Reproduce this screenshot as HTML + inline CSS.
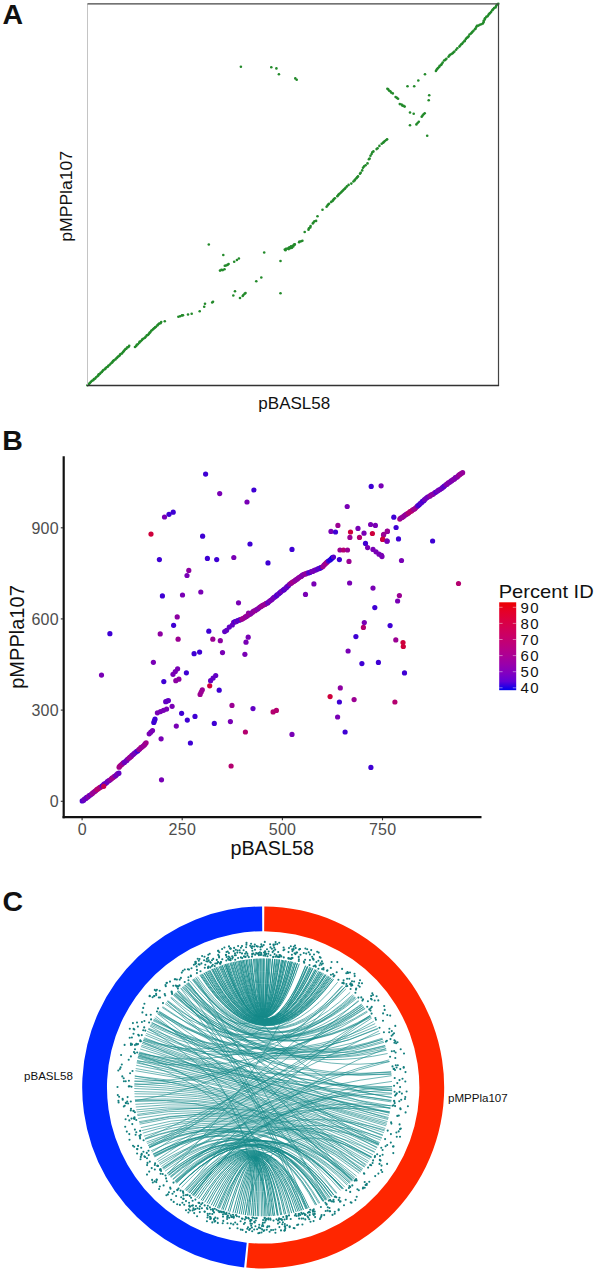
<!DOCTYPE html>
<html><head><meta charset="utf-8"><style>
html,body{margin:0;padding:0;background:#fff;width:600px;height:1275px;overflow:hidden}
body{position:relative;font-family:"Liberation Sans",sans-serif}
</style></head><body>
<svg width="600" height="1275" viewBox="0 0 600 1275" style="position:absolute;left:0;top:0">
<rect width="600" height="1275" fill="#fff"/>
<g fill="#238a2b">
<circle cx="87.4" cy="385.3" r="1.3"/>
<circle cx="88.6" cy="384.3" r="1.3"/>
<circle cx="89.4" cy="383.6" r="1.3"/>
<circle cx="90.1" cy="382.8" r="1.3"/>
<circle cx="91" cy="381.8" r="1.3"/>
<circle cx="92" cy="380.7" r="1.3"/>
<circle cx="93.2" cy="380.3" r="1.3"/>
<circle cx="93.9" cy="379" r="1.3"/>
<circle cx="95.2" cy="378.6" r="1.3"/>
<circle cx="96.1" cy="377.3" r="1.3"/>
<circle cx="97.4" cy="376.2" r="1.3"/>
<circle cx="98.3" cy="375.4" r="1.3"/>
<circle cx="98.7" cy="374.4" r="1.3"/>
<circle cx="99.8" cy="374" r="1.3"/>
<circle cx="100.6" cy="372.9" r="1.3"/>
<circle cx="101.9" cy="371.9" r="1.3"/>
<circle cx="102.8" cy="370.8" r="1.3"/>
<circle cx="103.4" cy="370" r="1.3"/>
<circle cx="104.8" cy="369.2" r="1.3"/>
<circle cx="105.5" cy="368.4" r="1.3"/>
<circle cx="106.6" cy="367.3" r="1.3"/>
<circle cx="107.8" cy="366.7" r="1.3"/>
<circle cx="108.3" cy="365.7" r="1.3"/>
<circle cx="109.5" cy="365" r="1.3"/>
<circle cx="110.6" cy="363.7" r="1.3"/>
<circle cx="111.7" cy="362.7" r="1.3"/>
<circle cx="112.3" cy="362.2" r="1.3"/>
<circle cx="113" cy="361.1" r="1.3"/>
<circle cx="113.9" cy="360.4" r="1.3"/>
<circle cx="115.4" cy="359.4" r="1.3"/>
<circle cx="116.4" cy="358.3" r="1.3"/>
<circle cx="117.2" cy="357.6" r="1.3"/>
<circle cx="118.1" cy="356.6" r="1.3"/>
<circle cx="119.2" cy="356" r="1.3"/>
<circle cx="119.9" cy="354.9" r="1.3"/>
<circle cx="120.6" cy="354.1" r="1.3"/>
<circle cx="122" cy="353.4" r="1.3"/>
<circle cx="123" cy="352" r="1.3"/>
<circle cx="123.7" cy="351.3" r="1.3"/>
<circle cx="124.4" cy="350.3" r="1.3"/>
<circle cx="125.4" cy="349.1" r="1.3"/>
<circle cx="126.3" cy="348.7" r="1.3"/>
<circle cx="127.3" cy="347.4" r="1.3"/>
<circle cx="128.5" cy="347" r="1.3"/>
<circle cx="129.2" cy="345.8" r="1.3"/>
<circle cx="135" cy="347" r="1.3"/>
<circle cx="136.2" cy="346" r="1.3"/>
<circle cx="136.8" cy="344.8" r="1.3"/>
<circle cx="137.8" cy="344.2" r="1.3"/>
<circle cx="139.2" cy="342.8" r="1.3"/>
<circle cx="139.6" cy="341.9" r="1.3"/>
<circle cx="140.6" cy="341.2" r="1.3"/>
<circle cx="141.9" cy="340.1" r="1.3"/>
<circle cx="142.4" cy="339.3" r="1.3"/>
<circle cx="143.6" cy="338.5" r="1.3"/>
<circle cx="145" cy="337.7" r="1.3"/>
<circle cx="145.7" cy="336.7" r="1.3"/>
<circle cx="146.8" cy="335.4" r="1.3"/>
<circle cx="147.9" cy="335" r="1.3"/>
<circle cx="148.8" cy="334.1" r="1.3"/>
<circle cx="149.5" cy="332.9" r="1.3"/>
<circle cx="150.2" cy="332.2" r="1.3"/>
<circle cx="151.2" cy="330.8" r="1.3"/>
<circle cx="152.3" cy="330" r="1.3"/>
<circle cx="153.3" cy="329" r="1.3"/>
<circle cx="154.1" cy="328.2" r="1.3"/>
<circle cx="155.1" cy="327.4" r="1.3"/>
<circle cx="156" cy="326.8" r="1.3"/>
<circle cx="157.4" cy="325.4" r="1.3"/>
<circle cx="158.1" cy="324.6" r="1.3"/>
<circle cx="159.2" cy="323.6" r="1.3"/>
<circle cx="160.5" cy="323.3" r="1.3"/>
<circle cx="161.2" cy="322" r="1.3"/>
<circle cx="178.4" cy="316.7" r="1.3"/>
<circle cx="180.1" cy="316.2" r="1.3"/>
<circle cx="182" cy="315.4" r="1.3"/>
<circle cx="183" cy="315.3" r="1.3"/>
<circle cx="220" cy="270.6" r="1.3"/>
<circle cx="221.4" cy="269.9" r="1.3"/>
<circle cx="222.8" cy="270.1" r="1.3"/>
<circle cx="224.5" cy="269.3" r="1.3"/>
<circle cx="224.8" cy="265.7" r="1.3"/>
<circle cx="226" cy="265.5" r="1.3"/>
<circle cx="227.5" cy="264.9" r="1.3"/>
<circle cx="228.6" cy="264" r="1.3"/>
<circle cx="236.9" cy="260" r="1.3"/>
<circle cx="238.9" cy="258.5" r="1.3"/>
<circle cx="242.7" cy="296" r="1.3"/>
<circle cx="243.4" cy="295" r="1.3"/>
<circle cx="244.6" cy="293.8" r="1.3"/>
<circle cx="245.5" cy="293.1" r="1.3"/>
<circle cx="288.8" cy="249.1" r="1.3"/>
<circle cx="290.7" cy="248.1" r="1.3"/>
<circle cx="292" cy="247.7" r="1.3"/>
<circle cx="293.3" cy="246.4" r="1.3"/>
<circle cx="284.8" cy="249.5" r="1.3"/>
<circle cx="286" cy="248.8" r="1.3"/>
<circle cx="287.6" cy="248.6" r="1.3"/>
<circle cx="289" cy="247.6" r="1.3"/>
<circle cx="290.1" cy="247.2" r="1.3"/>
<circle cx="291" cy="246.4" r="1.3"/>
<circle cx="292.8" cy="245.8" r="1.3"/>
<circle cx="293.9" cy="244.9" r="1.3"/>
<circle cx="294.8" cy="244.4" r="1.3"/>
<circle cx="299.1" cy="242.2" r="1.3"/>
<circle cx="301.2" cy="241.2" r="1.3"/>
<circle cx="302.4" cy="240.8" r="1.3"/>
<circle cx="308.5" cy="229.8" r="1.3"/>
<circle cx="308.9" cy="228.4" r="1.3"/>
<circle cx="310.3" cy="227.4" r="1.3"/>
<circle cx="310.6" cy="226" r="1.3"/>
<circle cx="312.8" cy="223.4" r="1.3"/>
<circle cx="313.5" cy="222.5" r="1.3"/>
<circle cx="314.4" cy="221.3" r="1.3"/>
<circle cx="316.1" cy="220.9" r="1.3"/>
<circle cx="326.6" cy="206.7" r="1.3"/>
<circle cx="327.5" cy="205.5" r="1.3"/>
<circle cx="328.2" cy="204.6" r="1.3"/>
<circle cx="329.1" cy="203.8" r="1.3"/>
<circle cx="331.2" cy="201.9" r="1.3"/>
<circle cx="332.6" cy="200.9" r="1.3"/>
<circle cx="333.3" cy="200" r="1.3"/>
<circle cx="333.9" cy="199" r="1.3"/>
<circle cx="334.9" cy="198.3" r="1.3"/>
<circle cx="337.3" cy="196.2" r="1.3"/>
<circle cx="338.1" cy="195.3" r="1.3"/>
<circle cx="338.8" cy="194.3" r="1.3"/>
<circle cx="339.8" cy="193.5" r="1.3"/>
<circle cx="341" cy="192.5" r="1.3"/>
<circle cx="341.9" cy="191.5" r="1.3"/>
<circle cx="342.9" cy="190.6" r="1.3"/>
<circle cx="343.9" cy="189.5" r="1.3"/>
<circle cx="344.9" cy="188.8" r="1.3"/>
<circle cx="345.6" cy="187.7" r="1.3"/>
<circle cx="346.9" cy="186.4" r="1.3"/>
<circle cx="348.6" cy="184.9" r="1.3"/>
<circle cx="351.3" cy="183.6" r="1.3"/>
<circle cx="353.4" cy="181.5" r="1.3"/>
<circle cx="354.6" cy="180.4" r="1.3"/>
<circle cx="355.1" cy="179.5" r="1.3"/>
<circle cx="356.4" cy="178.2" r="1.3"/>
<circle cx="357.1" cy="177.2" r="1.3"/>
<circle cx="358" cy="176.4" r="1.3"/>
<circle cx="360" cy="173.7" r="1.3"/>
<circle cx="360.7" cy="172.7" r="1.3"/>
<circle cx="362.2" cy="170.4" r="1.3"/>
<circle cx="363" cy="167.7" r="1.3"/>
<circle cx="364.1" cy="166.4" r="1.3"/>
<circle cx="365.6" cy="165.2" r="1.3"/>
<circle cx="367.5" cy="163.4" r="1.3"/>
<circle cx="368.9" cy="159.2" r="1.3"/>
<circle cx="369.6" cy="158.5" r="1.3"/>
<circle cx="370.5" cy="155.8" r="1.3"/>
<circle cx="371.6" cy="154" r="1.3"/>
<circle cx="372.3" cy="152.2" r="1.3"/>
<circle cx="373.4" cy="151.4" r="1.3"/>
<circle cx="376.6" cy="149.1" r="1.3"/>
<circle cx="377.6" cy="148.2" r="1.3"/>
<circle cx="379.4" cy="145.9" r="1.3"/>
<circle cx="381.7" cy="143.8" r="1.3"/>
<circle cx="383.1" cy="142.8" r="1.3"/>
<circle cx="383.8" cy="142.1" r="1.3"/>
<circle cx="384.8" cy="141.1" r="1.3"/>
<circle cx="386.3" cy="140" r="1.3"/>
<circle cx="387.1" cy="139.3" r="1.3"/>
<circle cx="387.4" cy="88.7" r="1.3"/>
<circle cx="388.2" cy="89.4" r="1.3"/>
<circle cx="389.2" cy="90.8" r="1.3"/>
<circle cx="390.3" cy="91.3" r="1.3"/>
<circle cx="391.2" cy="92.6" r="1.3"/>
<circle cx="392.8" cy="93.4" r="1.3"/>
<circle cx="395.6" cy="97" r="1.3"/>
<circle cx="396.9" cy="97.9" r="1.3"/>
<circle cx="398.1" cy="98.7" r="1.3"/>
<circle cx="399.8" cy="104.1" r="1.3"/>
<circle cx="401.6" cy="104.6" r="1.3"/>
<circle cx="402.3" cy="105.6" r="1.3"/>
<circle cx="403.6" cy="105.9" r="1.3"/>
<circle cx="404.7" cy="106.6" r="1.3"/>
<circle cx="421.7" cy="116.7" r="1.3"/>
<circle cx="422.6" cy="115.6" r="1.3"/>
<circle cx="423.6" cy="114.3" r="1.3"/>
<circle cx="424.7" cy="113.2" r="1.3"/>
<circle cx="416.4" cy="124.4" r="1.3"/>
<circle cx="417.6" cy="123" r="1.3"/>
<circle cx="418.8" cy="121.7" r="1.3"/>
<circle cx="435.9" cy="71" r="1.3"/>
<circle cx="436.6" cy="69.7" r="1.3"/>
<circle cx="437.2" cy="69" r="1.3"/>
<circle cx="438" cy="68" r="1.3"/>
<circle cx="439.2" cy="67" r="1.3"/>
<circle cx="439.7" cy="65.8" r="1.3"/>
<circle cx="441.1" cy="65" r="1.3"/>
<circle cx="441.7" cy="64.1" r="1.3"/>
<circle cx="442.7" cy="62.6" r="1.3"/>
<circle cx="444.1" cy="60.5" r="1.3"/>
<circle cx="445.3" cy="59.9" r="1.3"/>
<circle cx="446.4" cy="58.7" r="1.3"/>
<circle cx="448.5" cy="56.7" r="1.3"/>
<circle cx="449.4" cy="55.6" r="1.3"/>
<circle cx="450.1" cy="54.7" r="1.3"/>
<circle cx="451.5" cy="54" r="1.3"/>
<circle cx="452.6" cy="53.3" r="1.3"/>
<circle cx="453.3" cy="52.6" r="1.3"/>
<circle cx="454.4" cy="51.6" r="1.3"/>
<circle cx="456.1" cy="49.7" r="1.3"/>
<circle cx="457.3" cy="48.2" r="1.3"/>
<circle cx="459.4" cy="46.6" r="1.3"/>
<circle cx="460.2" cy="45.5" r="1.3"/>
<circle cx="461.3" cy="44.2" r="1.3"/>
<circle cx="462.1" cy="43.8" r="1.3"/>
<circle cx="463" cy="42.5" r="1.3"/>
<circle cx="464.5" cy="41.3" r="1.3"/>
<circle cx="464.8" cy="40.6" r="1.3"/>
<circle cx="465.9" cy="38.9" r="1.3"/>
<circle cx="467" cy="37.7" r="1.3"/>
<circle cx="467.8" cy="37.2" r="1.3"/>
<circle cx="468.6" cy="36.2" r="1.3"/>
<circle cx="469.5" cy="34.5" r="1.3"/>
<circle cx="470.9" cy="33.6" r="1.3"/>
<circle cx="471.9" cy="32.6" r="1.3"/>
<circle cx="472.5" cy="31.8" r="1.3"/>
<circle cx="473.5" cy="30.8" r="1.3"/>
<circle cx="474.9" cy="29.2" r="1.3"/>
<circle cx="475.5" cy="28.6" r="1.3"/>
<circle cx="476.3" cy="27.1" r="1.3"/>
<circle cx="477" cy="25.7" r="1.3"/>
<circle cx="478.5" cy="25.6" r="1.3"/>
<circle cx="479.8" cy="24.7" r="1.3"/>
<circle cx="481.3" cy="24.3" r="1.3"/>
<circle cx="482.9" cy="23.4" r="1.3"/>
<circle cx="483.7" cy="22" r="1.3"/>
<circle cx="483.7" cy="20.8" r="1.3"/>
<circle cx="484.8" cy="19.4" r="1.3"/>
<circle cx="485" cy="18.3" r="1.3"/>
<circle cx="486.3" cy="16.9" r="1.3"/>
<circle cx="487.5" cy="16.3" r="1.3"/>
<circle cx="488.4" cy="14.9" r="1.3"/>
<circle cx="489.2" cy="13.8" r="1.3"/>
<circle cx="490.1" cy="13.1" r="1.3"/>
<circle cx="491.1" cy="11.9" r="1.3"/>
<circle cx="492.3" cy="10.2" r="1.3"/>
<circle cx="493" cy="9.2" r="1.3"/>
<circle cx="494.1" cy="8.1" r="1.3"/>
<circle cx="495.5" cy="7.4" r="1.3"/>
<circle cx="496.1" cy="6.1" r="1.3"/>
<circle cx="496.9" cy="4.8" r="1.3"/>
<circle cx="498.3" cy="3.7" r="1.3"/>
<circle cx="295.3" cy="78.4" r="1.3"/>
<circle cx="296.7" cy="79.8" r="1.3"/>
<circle cx="164.8" cy="321.2" r="1.3"/>
<circle cx="188" cy="314.5" r="1.3"/>
<circle cx="191.7" cy="313.7" r="1.3"/>
<circle cx="199.7" cy="311.2" r="1.3"/>
<circle cx="204.2" cy="306.7" r="1.3"/>
<circle cx="205" cy="303.8" r="1.3"/>
<circle cx="212.2" cy="302.5" r="1.3"/>
<circle cx="213" cy="301.7" r="1.3"/>
<circle cx="208.8" cy="244.5" r="1.3"/>
<circle cx="223.3" cy="255" r="1.3"/>
<circle cx="264.2" cy="252.5" r="1.3"/>
<circle cx="234.2" cy="261.7" r="1.3"/>
<circle cx="261.3" cy="277.5" r="1.3"/>
<circle cx="256.3" cy="281.3" r="1.3"/>
<circle cx="235" cy="291.3" r="1.3"/>
<circle cx="233.3" cy="295.5" r="1.3"/>
<circle cx="240" cy="298" r="1.3"/>
<circle cx="280.5" cy="261" r="1.3"/>
<circle cx="280.5" cy="293.3" r="1.3"/>
<circle cx="285.5" cy="250.3" r="1.3"/>
<circle cx="294.5" cy="244.5" r="1.3"/>
<circle cx="299.5" cy="241.5" r="1.3"/>
<circle cx="304.7" cy="232" r="1.3"/>
<circle cx="317.5" cy="216.3" r="1.3"/>
<circle cx="322.5" cy="209.7" r="1.3"/>
<circle cx="410" cy="112.5" r="1.3"/>
<circle cx="413.7" cy="113.7" r="1.3"/>
<circle cx="407.5" cy="86.3" r="1.3"/>
<circle cx="414.2" cy="86.3" r="1.3"/>
<circle cx="418.3" cy="80.5" r="1.3"/>
<circle cx="425" cy="74.2" r="1.3"/>
<circle cx="429.2" cy="95.3" r="1.3"/>
<circle cx="428.7" cy="100.3" r="1.3"/>
<circle cx="410" cy="125.3" r="1.3"/>
<circle cx="427.2" cy="135.8" r="1.3"/>
<circle cx="240.9" cy="66.7" r="1.3"/>
<circle cx="271.3" cy="67.3" r="1.3"/>
<circle cx="276.4" cy="68.4" r="1.3"/>
<circle cx="278.9" cy="74.3" r="1.3"/>
</g>
<line x1="87.5" y1="3.8" x2="87.5" y2="385.5" stroke="#c4c4c4" stroke-width="1"/>
<line x1="87.5" y1="3.8" x2="498.5" y2="3.8" stroke="#444" stroke-width="1.2"/>
<line x1="498.5" y1="3.8" x2="498.5" y2="385.5" stroke="#444" stroke-width="1.2"/>
<line x1="87.0" y1="385.5" x2="499.1" y2="385.5" stroke="#333" stroke-width="1.4"/>
<text x="2.5" y="23.9" font-family="Liberation Sans, sans-serif" font-weight="bold" font-size="28.5" fill="#111">A</text>
<text x="258.3" y="409.4" font-family="Liberation Sans, sans-serif" font-size="16.5" fill="#111" textLength="72" lengthAdjust="spacingAndGlyphs">pBASL58</text>
<text transform="translate(71.7,241.7) rotate(-90)" font-family="Liberation Sans, sans-serif" font-size="16.5" fill="#111" textLength="90.8" lengthAdjust="spacingAndGlyphs">pMPPla107</text>
<text x="2.3" y="450.3" font-family="Liberation Sans, sans-serif" font-weight="bold" font-size="28.5" fill="#111">B</text>
<circle cx="101.5" cy="675.1" r="2.6" fill="#7900b5"/>
<circle cx="161.5" cy="779.8" r="2.6" fill="#7900b5"/>
<circle cx="176.3" cy="726.1" r="2.6" fill="#7900b5"/>
<circle cx="181.6" cy="713.3" r="2.6" fill="#3f00d4"/>
<circle cx="187.3" cy="720.1" r="2.6" fill="#3f00d4"/>
<circle cx="195" cy="716.4" r="2.6" fill="#3f00d4"/>
<circle cx="190.4" cy="743" r="2.6" fill="#3f00d4"/>
<circle cx="161.1" cy="738.8" r="2.6" fill="#7900b5"/>
<circle cx="153.4" cy="662.3" r="2.6" fill="#7900b5"/>
<circle cx="186.4" cy="672.8" r="2.6" fill="#3f00d4"/>
<circle cx="163.8" cy="681.6" r="2.6" fill="#3f00d4"/>
<circle cx="209.7" cy="685.8" r="2.6" fill="#ce003b"/>
<circle cx="219.2" cy="690.2" r="2.6" fill="#3f00d4"/>
<circle cx="232" cy="705.4" r="2.6" fill="#9b0093"/>
<circle cx="230.4" cy="721.6" r="2.6" fill="#7900b5"/>
<circle cx="214.3" cy="723.4" r="2.6" fill="#3f00d4"/>
<circle cx="245.4" cy="732" r="2.6" fill="#b4006f"/>
<circle cx="231.1" cy="766" r="2.6" fill="#b4006f"/>
<circle cx="194.1" cy="653.7" r="2.6" fill="#3f00d4"/>
<circle cx="199.6" cy="652.1" r="2.6" fill="#3f00d4"/>
<circle cx="222.5" cy="652.6" r="2.6" fill="#7900b5"/>
<circle cx="212.8" cy="639.2" r="2.6" fill="#9b0093"/>
<circle cx="220.3" cy="640.7" r="2.6" fill="#8d00a2"/>
<circle cx="208.8" cy="631.2" r="2.6" fill="#3f00d4"/>
<circle cx="178.1" cy="639.2" r="2.6" fill="#9b0093"/>
<circle cx="160.2" cy="633.9" r="2.6" fill="#8d00a2"/>
<circle cx="173.6" cy="625.3" r="2.6" fill="#3f00d4"/>
<circle cx="177.2" cy="616.9" r="2.6" fill="#8d00a2"/>
<circle cx="109.9" cy="633.7" r="2.6" fill="#3f00d4"/>
<circle cx="238.5" cy="602.8" r="2.6" fill="#7900b5"/>
<circle cx="248.5" cy="613.2" r="2.6" fill="#8d00a2"/>
<circle cx="248.2" cy="637.2" r="2.6" fill="#7900b5"/>
<circle cx="246" cy="642.2" r="2.6" fill="#7900b5"/>
<circle cx="244.9" cy="654.3" r="2.6" fill="#7900b5"/>
<circle cx="253" cy="708.6" r="2.6" fill="#6200c4"/>
<circle cx="273.1" cy="711.9" r="2.6" fill="#b4006f"/>
<circle cx="276.4" cy="710.4" r="2.6" fill="#b4006f"/>
<circle cx="292" cy="734.4" r="2.6" fill="#7900b5"/>
<circle cx="340.3" cy="687.9" r="2.6" fill="#8d00a2"/>
<circle cx="330.1" cy="696.6" r="2.6" fill="#ce003b"/>
<circle cx="339.4" cy="702" r="2.6" fill="#3f00d4"/>
<circle cx="354.1" cy="699.6" r="2.6" fill="#9b0093"/>
<circle cx="337.6" cy="717" r="2.6" fill="#7900b5"/>
<circle cx="345.1" cy="732" r="2.6" fill="#3f00d4"/>
<circle cx="394.9" cy="702" r="2.6" fill="#b4006f"/>
<circle cx="370.9" cy="767.4" r="2.6" fill="#3f00d4"/>
<circle cx="355.9" cy="636.6" r="2.6" fill="#3f00d4"/>
<circle cx="348.1" cy="651" r="2.6" fill="#7900b5"/>
<circle cx="361.9" cy="663.6" r="2.6" fill="#3f00d4"/>
<circle cx="378.4" cy="662.4" r="2.6" fill="#3f00d4"/>
<circle cx="395.8" cy="639.9" r="2.6" fill="#9b0093"/>
<circle cx="403" cy="642.6" r="2.6" fill="#ce003b"/>
<circle cx="403.3" cy="646.5" r="2.6" fill="#ce003b"/>
<circle cx="404.5" cy="672.9" r="2.6" fill="#3f00d4"/>
<circle cx="364.3" cy="622.6" r="2.6" fill="#7900b5"/>
<circle cx="363.4" cy="627.4" r="2.6" fill="#b4006f"/>
<circle cx="390.1" cy="625.6" r="2.6" fill="#3f00d4"/>
<circle cx="373" cy="588.1" r="2.6" fill="#7900b5"/>
<circle cx="374.8" cy="607.6" r="2.6" fill="#3f00d4"/>
<circle cx="399.4" cy="595.6" r="2.6" fill="#9b0093"/>
<circle cx="397.6" cy="601" r="2.6" fill="#7900b5"/>
<circle cx="349.6" cy="583" r="2.6" fill="#7900b5"/>
<circle cx="313.9" cy="583.9" r="2.6" fill="#7900b5"/>
<circle cx="305.5" cy="594.4" r="2.6" fill="#7900b5"/>
<circle cx="268" cy="562.9" r="2.6" fill="#3f00d4"/>
<circle cx="292" cy="549.4" r="2.6" fill="#3f00d4"/>
<circle cx="250" cy="544" r="2.6" fill="#3f00d4"/>
<circle cx="253.9" cy="490" r="2.6" fill="#3f00d4"/>
<circle cx="247" cy="502" r="2.6" fill="#7900b5"/>
<circle cx="205.6" cy="474.1" r="2.6" fill="#3f00d4"/>
<circle cx="219.7" cy="493.6" r="2.6" fill="#7900b5"/>
<circle cx="164.5" cy="517" r="2.6" fill="#7900b5"/>
<circle cx="169" cy="514.3" r="2.6" fill="#3f00d4"/>
<circle cx="173.2" cy="512.2" r="2.6" fill="#3f00d4"/>
<circle cx="151" cy="534.1" r="2.6" fill="#ce003b"/>
<circle cx="202.6" cy="536.2" r="2.6" fill="#3f00d4"/>
<circle cx="159.4" cy="559.6" r="2.6" fill="#3f00d4"/>
<circle cx="207.4" cy="558.4" r="2.6" fill="#3f00d4"/>
<circle cx="216.7" cy="559.6" r="2.6" fill="#3f00d4"/>
<circle cx="233.8" cy="557.5" r="2.6" fill="#7900b5"/>
<circle cx="188.8" cy="570.4" r="2.6" fill="#8d00a2"/>
<circle cx="187" cy="575.5" r="2.6" fill="#7900b5"/>
<circle cx="162.4" cy="595.9" r="2.6" fill="#3f00d4"/>
<circle cx="182.5" cy="595" r="2.6" fill="#7900b5"/>
<circle cx="200.8" cy="592" r="2.6" fill="#7900b5"/>
<circle cx="371.2" cy="486.4" r="2.6" fill="#3f00d4"/>
<circle cx="381.1" cy="485.8" r="2.6" fill="#7900b5"/>
<circle cx="347.2" cy="506.5" r="2.6" fill="#7900b5"/>
<circle cx="401.5" cy="560.5" r="2.6" fill="#7900b5"/>
<circle cx="398.5" cy="538.9" r="2.6" fill="#3f00d4"/>
<circle cx="396.1" cy="527.5" r="2.6" fill="#3f00d4"/>
<circle cx="393.8" cy="517.2" r="2.6" fill="#3f00d4"/>
<circle cx="432.6" cy="541" r="2.6" fill="#3f00d4"/>
<circle cx="458.5" cy="583.5" r="2.6" fill="#b4006f"/>
<circle cx="381.5" cy="555.3" r="2.6" fill="#7900b5"/>
<circle cx="331" cy="531.4" r="2.6" fill="#7900b5"/>
<circle cx="335.5" cy="532" r="2.6" fill="#3f00d4"/>
<circle cx="337.9" cy="525.4" r="2.6" fill="#9b0093"/>
<circle cx="339.4" cy="559.6" r="2.6" fill="#3f00d4"/>
<circle cx="340" cy="550" r="2.6" fill="#9b0093"/>
<circle cx="343.5" cy="550" r="2.6" fill="#b4006f"/>
<circle cx="347.5" cy="550" r="2.6" fill="#9b0093"/>
<circle cx="349" cy="561.4" r="2.6" fill="#9b0093"/>
<circle cx="350.5" cy="532" r="2.6" fill="#ce003b"/>
<circle cx="349.9" cy="537.4" r="2.6" fill="#9b0093"/>
<circle cx="358" cy="528.4" r="2.6" fill="#7900b5"/>
<circle cx="359.5" cy="537.4" r="2.6" fill="#b4006f"/>
<circle cx="364" cy="533.2" r="2.6" fill="#7900b5"/>
<circle cx="365.5" cy="543.4" r="2.6" fill="#3f00d4"/>
<circle cx="367.6" cy="547.6" r="2.6" fill="#7900b5"/>
<circle cx="370.6" cy="524.5" r="2.6" fill="#7900b5"/>
<circle cx="375.4" cy="525.4" r="2.6" fill="#7900b5"/>
<circle cx="372.4" cy="533.5" r="2.6" fill="#ce003b"/>
<circle cx="373" cy="549.4" r="2.6" fill="#7900b5"/>
<circle cx="376" cy="551.8" r="2.6" fill="#7900b5"/>
<circle cx="379" cy="554.2" r="2.6" fill="#7900b5"/>
<circle cx="382" cy="556.6" r="2.6" fill="#7900b5"/>
<circle cx="383.5" cy="535" r="2.6" fill="#9b0093"/>
<circle cx="387.4" cy="531.4" r="2.6" fill="#7900b5"/>
<circle cx="382.6" cy="539.5" r="2.6" fill="#b4006f"/>
<circle cx="387.1" cy="541" r="2.6" fill="#6200c4"/>
<circle cx="387.3" cy="531.1" r="2.6" fill="#9b0093"/>
<circle cx="383.7" cy="534.3" r="2.6" fill="#9b0093"/>
<circle cx="382.8" cy="539.2" r="2.6" fill="#ce003b"/>
<circle cx="387" cy="541.2" r="2.6" fill="#7900b5"/>
<circle cx="149.2" cy="733.8" r="2.6" fill="#7900b5"/>
<circle cx="150.8" cy="732.2" r="2.6" fill="#7900b5"/>
<circle cx="152.5" cy="730.5" r="2.6" fill="#7900b5"/>
<circle cx="153.8" cy="722.5" r="2.6" fill="#3f00d4"/>
<circle cx="154.4" cy="720.8" r="2.6" fill="#3f00d4"/>
<circle cx="155" cy="719.2" r="2.6" fill="#3f00d4"/>
<circle cx="157.4" cy="712.8" r="2.6" fill="#7900b5"/>
<circle cx="160.5" cy="711.6" r="2.6" fill="#7900b5"/>
<circle cx="163.5" cy="710.3" r="2.6" fill="#7900b5"/>
<circle cx="166.6" cy="709.1" r="2.6" fill="#7900b5"/>
<circle cx="165.7" cy="701.7" r="2.6" fill="#6200c4"/>
<circle cx="167.1" cy="701.1" r="2.6" fill="#6200c4"/>
<circle cx="168.4" cy="700.5" r="2.6" fill="#6200c4"/>
<circle cx="172.1" cy="706.3" r="2.6" fill="#7900b5"/>
<circle cx="173" cy="674.3" r="2.6" fill="#7900b5"/>
<circle cx="175.3" cy="671.5" r="2.6" fill="#7900b5"/>
<circle cx="177.6" cy="668.8" r="2.6" fill="#7900b5"/>
<circle cx="175.8" cy="680.7" r="2.6" fill="#8d00a2"/>
<circle cx="178.9" cy="679.2" r="2.6" fill="#8d00a2"/>
<circle cx="210.6" cy="680.7" r="2.6" fill="#6200c4"/>
<circle cx="213.1" cy="678.1" r="2.6" fill="#6200c4"/>
<circle cx="215.7" cy="675.5" r="2.6" fill="#6200c4"/>
<circle cx="200.1" cy="694.4" r="2.6" fill="#9b0093"/>
<circle cx="201.2" cy="692.1" r="2.6" fill="#9b0093"/>
<circle cx="202.3" cy="689.8" r="2.6" fill="#9b0093"/>
<circle cx="235.3" cy="621.6" r="2.6" fill="#6200c4"/>
<circle cx="232.3" cy="625" r="2.6" fill="#6200c4"/>
<circle cx="229.3" cy="627.1" r="2.6" fill="#6200c4"/>
<circle cx="226.6" cy="630.3" r="2.6" fill="#6200c4"/>
<circle cx="224.7" cy="631.6" r="2.6" fill="#6200c4"/>
<circle cx="82.2" cy="800.9" r="2.6" fill="#5400cc"/>
<circle cx="83.7" cy="800.3" r="2.6" fill="#5f00c6"/>
<circle cx="84.4" cy="799" r="2.6" fill="#7300b9"/>
<circle cx="85.9" cy="798.4" r="2.6" fill="#6c00be"/>
<circle cx="86.6" cy="797.4" r="2.6" fill="#6600c2"/>
<circle cx="88.2" cy="796.8" r="2.6" fill="#8700a8"/>
<circle cx="89.1" cy="795.6" r="2.6" fill="#8900a7"/>
<circle cx="90.3" cy="795" r="2.6" fill="#6a00c0"/>
<circle cx="91.6" cy="794.1" r="2.6" fill="#8800a8"/>
<circle cx="92.6" cy="793.2" r="2.6" fill="#a1008b"/>
<circle cx="93.9" cy="792.1" r="2.6" fill="#8f00a1"/>
<circle cx="95" cy="791.3" r="2.6" fill="#a40087"/>
<circle cx="95.9" cy="790.6" r="2.6" fill="#91009e"/>
<circle cx="97" cy="789.4" r="2.6" fill="#b80069"/>
<circle cx="98.4" cy="788.7" r="2.6" fill="#b5006e"/>
<circle cx="99.6" cy="787.6" r="2.6" fill="#af0077"/>
<circle cx="100.6" cy="787.2" r="2.6" fill="#b10074"/>
<circle cx="102" cy="786.1" r="2.6" fill="#6900c0"/>
<circle cx="102.8" cy="785.5" r="2.6" fill="#5200cd"/>
<circle cx="104" cy="784.1" r="2.6" fill="#6c00be"/>
<circle cx="105.3" cy="783.5" r="2.6" fill="#6200c5"/>
<circle cx="106.5" cy="782.8" r="2.6" fill="#6e00bd"/>
<circle cx="107.3" cy="781.7" r="2.6" fill="#6d00be"/>
<circle cx="108.8" cy="780.7" r="2.6" fill="#7500b8"/>
<circle cx="109.9" cy="780" r="2.6" fill="#8300ac"/>
<circle cx="111.2" cy="779" r="2.6" fill="#93009c"/>
<circle cx="112" cy="778.1" r="2.6" fill="#a2008a"/>
<circle cx="113.2" cy="777.6" r="2.6" fill="#a1008c"/>
<circle cx="114.3" cy="776.4" r="2.6" fill="#9b0093"/>
<circle cx="115.6" cy="775.8" r="2.6" fill="#7500b8"/>
<circle cx="116.7" cy="774.6" r="2.6" fill="#6900c0"/>
<circle cx="117.7" cy="773.7" r="2.6" fill="#8900a7"/>
<circle cx="118.9" cy="773.2" r="2.6" fill="#6500c3"/>
<circle cx="119.1" cy="767.2" r="2.6" fill="#a40088"/>
<circle cx="120" cy="765.9" r="2.6" fill="#a50086"/>
<circle cx="121.3" cy="764.8" r="2.6" fill="#a50086"/>
<circle cx="122.2" cy="764.1" r="2.6" fill="#9f008e"/>
<circle cx="123.2" cy="762.9" r="2.6" fill="#970098"/>
<circle cx="124.4" cy="762.4" r="2.6" fill="#6f00bc"/>
<circle cx="125.8" cy="761.1" r="2.6" fill="#6800c1"/>
<circle cx="126.8" cy="760.4" r="2.6" fill="#7300ba"/>
<circle cx="127.5" cy="759.3" r="2.6" fill="#7600b7"/>
<circle cx="129" cy="758.2" r="2.6" fill="#980097"/>
<circle cx="130.1" cy="757.2" r="2.6" fill="#970097"/>
<circle cx="131.2" cy="756.6" r="2.6" fill="#990096"/>
<circle cx="131.9" cy="755.3" r="2.6" fill="#8f00a1"/>
<circle cx="133.1" cy="754.6" r="2.6" fill="#7500b8"/>
<circle cx="134.2" cy="753.4" r="2.6" fill="#7400b8"/>
<circle cx="135.4" cy="752.5" r="2.6" fill="#7700b6"/>
<circle cx="136.4" cy="751.5" r="2.6" fill="#6d00be"/>
<circle cx="137.7" cy="750.9" r="2.6" fill="#3f00d4"/>
<circle cx="138.9" cy="749.5" r="2.6" fill="#9e008f"/>
<circle cx="139.7" cy="749" r="2.6" fill="#94009b"/>
<circle cx="140.8" cy="747.7" r="2.6" fill="#a50086"/>
<circle cx="141.9" cy="747.1" r="2.6" fill="#990095"/>
<circle cx="143.2" cy="746" r="2.6" fill="#93009d"/>
<circle cx="144.3" cy="745" r="2.6" fill="#a2008a"/>
<circle cx="145.1" cy="743.9" r="2.6" fill="#960098"/>
<circle cx="146.1" cy="742.8" r="2.6" fill="#a1008b"/>
<circle cx="233.6" cy="622.3" r="2.6" fill="#6e00bd"/>
<circle cx="235.1" cy="621.8" r="2.6" fill="#4200d3"/>
<circle cx="236.5" cy="621.6" r="2.6" fill="#7800b6"/>
<circle cx="237.5" cy="620.6" r="2.6" fill="#5400cc"/>
<circle cx="239.1" cy="620.2" r="2.6" fill="#6200c5"/>
<circle cx="240.3" cy="619.7" r="2.6" fill="#5200cd"/>
<circle cx="241.8" cy="619.2" r="2.6" fill="#9f008e"/>
<circle cx="242.8" cy="618.6" r="2.6" fill="#9f008e"/>
<circle cx="244.3" cy="617.8" r="2.6" fill="#960099"/>
<circle cx="245.3" cy="616.9" r="2.6" fill="#a0008c"/>
<circle cx="246.5" cy="616.4" r="2.6" fill="#94009b"/>
<circle cx="247.8" cy="615.4" r="2.6" fill="#9000a0"/>
<circle cx="249.1" cy="614.5" r="2.6" fill="#9b0093"/>
<circle cx="250.4" cy="614" r="2.6" fill="#960099"/>
<circle cx="251.5" cy="613.1" r="2.6" fill="#8100ae"/>
<circle cx="252.9" cy="611.9" r="2.6" fill="#970098"/>
<circle cx="253.7" cy="611.1" r="2.6" fill="#8700a8"/>
<circle cx="255.1" cy="610.7" r="2.6" fill="#9a0094"/>
<circle cx="256.5" cy="609.6" r="2.6" fill="#8a00a6"/>
<circle cx="257.6" cy="609" r="2.6" fill="#8600a9"/>
<circle cx="258.8" cy="608.1" r="2.6" fill="#8100ae"/>
<circle cx="260" cy="607" r="2.6" fill="#94009c"/>
<circle cx="261.2" cy="606.4" r="2.6" fill="#93009c"/>
<circle cx="262.5" cy="605.4" r="2.6" fill="#9e008f"/>
<circle cx="263.9" cy="604.8" r="2.6" fill="#960098"/>
<circle cx="265" cy="604.4" r="2.6" fill="#960099"/>
<circle cx="266.1" cy="603.4" r="2.6" fill="#9c0092"/>
<circle cx="267.6" cy="603" r="2.6" fill="#7400b8"/>
<circle cx="268.5" cy="602.1" r="2.6" fill="#6700c2"/>
<circle cx="269.7" cy="601" r="2.6" fill="#7500b8"/>
<circle cx="270.8" cy="600.3" r="2.6" fill="#8800a7"/>
<circle cx="271.9" cy="599.5" r="2.6" fill="#7300b9"/>
<circle cx="273" cy="598.3" r="2.6" fill="#7800b5"/>
<circle cx="274" cy="597.3" r="2.6" fill="#6d00bd"/>
<circle cx="275.2" cy="596.8" r="2.6" fill="#7500b8"/>
<circle cx="276.5" cy="595.7" r="2.6" fill="#5d00c7"/>
<circle cx="277.1" cy="594.9" r="2.6" fill="#4d00cf"/>
<circle cx="278.7" cy="593.8" r="2.6" fill="#6900c0"/>
<circle cx="279.5" cy="593.1" r="2.6" fill="#6800c1"/>
<circle cx="280.5" cy="592.2" r="2.6" fill="#4b00cf"/>
<circle cx="281.5" cy="591.3" r="2.6" fill="#7600b7"/>
<circle cx="283.1" cy="590.2" r="2.6" fill="#7100bb"/>
<circle cx="284.1" cy="589.7" r="2.6" fill="#4a00d0"/>
<circle cx="284.8" cy="588.8" r="2.6" fill="#6100c5"/>
<circle cx="286.3" cy="587.7" r="2.6" fill="#5c00c8"/>
<circle cx="287" cy="586.7" r="2.6" fill="#7100ba"/>
<circle cx="288.3" cy="585.8" r="2.6" fill="#5100cd"/>
<circle cx="289.2" cy="584.5" r="2.6" fill="#7200ba"/>
<circle cx="290.5" cy="583.5" r="2.6" fill="#980096"/>
<circle cx="291.5" cy="582.9" r="2.6" fill="#91009e"/>
<circle cx="292.6" cy="582" r="2.6" fill="#a40087"/>
<circle cx="293.8" cy="581.4" r="2.6" fill="#a1008c"/>
<circle cx="295.2" cy="580.4" r="2.6" fill="#91009f"/>
<circle cx="296.2" cy="579.6" r="2.6" fill="#91009e"/>
<circle cx="297.4" cy="578.9" r="2.6" fill="#9000a0"/>
<circle cx="298.6" cy="577.8" r="2.6" fill="#8c00a4"/>
<circle cx="299.8" cy="577.1" r="2.6" fill="#91009f"/>
<circle cx="301.1" cy="576.4" r="2.6" fill="#95009a"/>
<circle cx="302.1" cy="575.4" r="2.6" fill="#8300ac"/>
<circle cx="303.3" cy="574.6" r="2.6" fill="#8200ad"/>
<circle cx="304.6" cy="574" r="2.6" fill="#8c00a4"/>
<circle cx="305.7" cy="573.9" r="2.6" fill="#91009e"/>
<circle cx="307.2" cy="573" r="2.6" fill="#95009a"/>
<circle cx="308.5" cy="572.9" r="2.6" fill="#6200c4"/>
<circle cx="310" cy="572.4" r="2.6" fill="#4b00d0"/>
<circle cx="311.3" cy="571.5" r="2.6" fill="#6d00bd"/>
<circle cx="312.5" cy="571.4" r="2.6" fill="#7800b6"/>
<circle cx="313.6" cy="570.8" r="2.6" fill="#7500b8"/>
<circle cx="314.9" cy="570" r="2.6" fill="#7600b7"/>
<circle cx="316.3" cy="569.8" r="2.6" fill="#6e00bd"/>
<circle cx="317.9" cy="568.9" r="2.6" fill="#5500cb"/>
<circle cx="319.3" cy="568.4" r="2.6" fill="#6200c4"/>
<circle cx="320.4" cy="567.9" r="2.6" fill="#5400cc"/>
<circle cx="321.5" cy="567.3" r="2.6" fill="#4200d3"/>
<circle cx="322.9" cy="566.6" r="2.6" fill="#a50086"/>
<circle cx="324" cy="565.1" r="2.6" fill="#92009d"/>
<circle cx="325.1" cy="564.1" r="2.6" fill="#9c0092"/>
<circle cx="326.1" cy="563.1" r="2.6" fill="#a30088"/>
<circle cx="327" cy="562.2" r="2.6" fill="#a40088"/>
<circle cx="328.4" cy="561.1" r="2.6" fill="#4a00d0"/>
<circle cx="330" cy="560" r="2.6" fill="#1e00db"/>
<circle cx="331.2" cy="558.9" r="2.6" fill="#2f00d8"/>
<circle cx="332.4" cy="557.7" r="2.6" fill="#0000de"/>
<circle cx="333.5" cy="557" r="2.6" fill="#5700ca"/>
<circle cx="399.8" cy="519.1" r="2.6" fill="#a60085"/>
<circle cx="400.7" cy="518" r="2.6" fill="#960099"/>
<circle cx="402.2" cy="517.4" r="2.6" fill="#92009e"/>
<circle cx="403.5" cy="516.4" r="2.6" fill="#9b0093"/>
<circle cx="404.5" cy="515.6" r="2.6" fill="#94009b"/>
<circle cx="405.5" cy="514.8" r="2.6" fill="#8e00a2"/>
<circle cx="406.6" cy="514.2" r="2.6" fill="#970097"/>
<circle cx="407.7" cy="513.5" r="2.6" fill="#9d0091"/>
<circle cx="408.8" cy="512.8" r="2.6" fill="#b4006f"/>
<circle cx="410" cy="511.6" r="2.6" fill="#b00076"/>
<circle cx="411.5" cy="511.1" r="2.6" fill="#b7006b"/>
<circle cx="412.4" cy="510" r="2.6" fill="#b30071"/>
<circle cx="413.7" cy="509.3" r="2.6" fill="#9e008f"/>
<circle cx="414.8" cy="508.8" r="2.6" fill="#9e008f"/>
<circle cx="415.8" cy="507.8" r="2.6" fill="#a0008c"/>
<circle cx="417" cy="506.5" r="2.6" fill="#8f00a1"/>
<circle cx="417.9" cy="505.7" r="2.6" fill="#5200cd"/>
<circle cx="419.2" cy="504.8" r="2.6" fill="#4000d4"/>
<circle cx="420.1" cy="503.6" r="2.6" fill="#4b00d0"/>
<circle cx="421.5" cy="502.7" r="2.6" fill="#6200c4"/>
<circle cx="422.4" cy="501.4" r="2.6" fill="#4e00cf"/>
<circle cx="423.8" cy="500.7" r="2.6" fill="#4300d3"/>
<circle cx="424.5" cy="499.7" r="2.6" fill="#6d00be"/>
<circle cx="425.8" cy="498.6" r="2.6" fill="#6e00bd"/>
<circle cx="427" cy="497.5" r="2.6" fill="#7700b7"/>
<circle cx="428.1" cy="496.8" r="2.6" fill="#6d00bd"/>
<circle cx="429.8" cy="496.2" r="2.6" fill="#8200ae"/>
<circle cx="430.8" cy="495.2" r="2.6" fill="#93009c"/>
<circle cx="432.4" cy="494.4" r="2.6" fill="#8c00a4"/>
<circle cx="433.6" cy="493.8" r="2.6" fill="#8600a9"/>
<circle cx="435" cy="492.5" r="2.6" fill="#8500ab"/>
<circle cx="436" cy="492.1" r="2.6" fill="#5400cc"/>
<circle cx="437.5" cy="491" r="2.6" fill="#7600b7"/>
<circle cx="438.6" cy="490.2" r="2.6" fill="#7400b9"/>
<circle cx="440" cy="489.5" r="2.6" fill="#7500b8"/>
<circle cx="441.4" cy="488.5" r="2.6" fill="#6a00bf"/>
<circle cx="442.4" cy="487.7" r="2.6" fill="#7200ba"/>
<circle cx="443.7" cy="486.7" r="2.6" fill="#5e00c6"/>
<circle cx="444.6" cy="485.8" r="2.6" fill="#5700ca"/>
<circle cx="446.2" cy="484.6" r="2.6" fill="#8000af"/>
<circle cx="447" cy="484.2" r="2.6" fill="#7e00b0"/>
<circle cx="448.2" cy="482.9" r="2.6" fill="#8900a7"/>
<circle cx="449.6" cy="482.3" r="2.6" fill="#7f00b0"/>
<circle cx="450.8" cy="481.2" r="2.6" fill="#8000af"/>
<circle cx="451.8" cy="480.7" r="2.6" fill="#7c00b2"/>
<circle cx="453.3" cy="479.4" r="2.6" fill="#8400ab"/>
<circle cx="454.5" cy="479" r="2.6" fill="#8600aa"/>
<circle cx="455.3" cy="477.7" r="2.6" fill="#8100ae"/>
<circle cx="456.8" cy="477.2" r="2.6" fill="#7e00b0"/>
<circle cx="457.9" cy="476.3" r="2.6" fill="#91009e"/>
<circle cx="458.8" cy="475.2" r="2.6" fill="#8700a9"/>
<circle cx="460" cy="474.4" r="2.6" fill="#a1008c"/>
<circle cx="461.1" cy="473.5" r="2.6" fill="#990096"/>
<circle cx="462.6" cy="472.7" r="2.6" fill="#95009a"/>
<circle cx="103.7" cy="786.3" r="2.6" fill="#c40052"/>
<line x1="63.7" y1="456.3" x2="63.7" y2="818.2" stroke="#111" stroke-width="2.2"/>
<line x1="62.6" y1="817.1" x2="481.5" y2="817.1" stroke="#111" stroke-width="2.2"/>
<line x1="60.8" y1="801.3" x2="63" y2="801.3" stroke="#333" stroke-width="1.1"/>
<text x="58.6" y="807" font-family="Liberation Sans, sans-serif" font-size="16" fill="#4d4d4d" text-anchor="end">0</text>
<line x1="60.8" y1="710.1" x2="63" y2="710.1" stroke="#333" stroke-width="1.1"/>
<text x="58.6" y="715.8" font-family="Liberation Sans, sans-serif" font-size="16" fill="#4d4d4d" text-anchor="end" textLength="27.2" lengthAdjust="spacing">300</text>
<line x1="60.8" y1="618.9" x2="63" y2="618.9" stroke="#333" stroke-width="1.1"/>
<text x="58.6" y="624.6" font-family="Liberation Sans, sans-serif" font-size="16" fill="#4d4d4d" text-anchor="end" textLength="27.2" lengthAdjust="spacing">600</text>
<line x1="60.8" y1="527.8" x2="63" y2="527.8" stroke="#333" stroke-width="1.1"/>
<text x="58.6" y="533.5" font-family="Liberation Sans, sans-serif" font-size="16" fill="#4d4d4d" text-anchor="end" textLength="27.2" lengthAdjust="spacing">900</text>
<line x1="82.1" y1="818" x2="82.1" y2="820.3" stroke="#333" stroke-width="1.1"/>
<text x="82.1" y="834.6" font-family="Liberation Sans, sans-serif" font-size="16" fill="#4d4d4d" text-anchor="middle">0</text>
<line x1="182.2" y1="818" x2="182.2" y2="820.3" stroke="#333" stroke-width="1.1"/>
<text x="182.2" y="834.6" font-family="Liberation Sans, sans-serif" font-size="16" fill="#4d4d4d" text-anchor="middle" textLength="27.2" lengthAdjust="spacing">250</text>
<line x1="282.4" y1="818" x2="282.4" y2="820.3" stroke="#333" stroke-width="1.1"/>
<text x="282.4" y="834.6" font-family="Liberation Sans, sans-serif" font-size="16" fill="#4d4d4d" text-anchor="middle" textLength="27.2" lengthAdjust="spacing">500</text>
<line x1="382.5" y1="818" x2="382.5" y2="820.3" stroke="#333" stroke-width="1.1"/>
<text x="382.5" y="834.6" font-family="Liberation Sans, sans-serif" font-size="16" fill="#4d4d4d" text-anchor="middle" textLength="27.2" lengthAdjust="spacing">750</text>
<text x="230.4" y="854.6" font-family="Liberation Sans, sans-serif" font-size="20" fill="#111" textLength="83.6" lengthAdjust="spacingAndGlyphs">pBASL58</text>
<text transform="translate(24.1,688.8) rotate(-90)" font-family="Liberation Sans, sans-serif" font-size="20" fill="#111" textLength="103.6" lengthAdjust="spacingAndGlyphs">pMPPla107</text>
<text x="498.7" y="597.6" font-family="Liberation Sans, sans-serif" font-size="18.5" fill="#111" textLength="95" lengthAdjust="spacingAndGlyphs">Percent ID</text>
<defs><linearGradient id="cb" x1="0" y1="0" x2="0" y2="1"><stop offset="0.00" stop-color="#ed0000"/><stop offset="0.10" stop-color="#e50027"/><stop offset="0.20" stop-color="#dc003f"/><stop offset="0.30" stop-color="#d30055"/><stop offset="0.40" stop-color="#c8006a"/><stop offset="0.50" stop-color="#bb007f"/><stop offset="0.60" stop-color="#ad0094"/><stop offset="0.70" stop-color="#9a00aa"/><stop offset="0.80" stop-color="#8300c0"/><stop offset="0.90" stop-color="#6100d6"/><stop offset="1.00" stop-color="#0000ed"/></linearGradient></defs>
<rect x="499.2" y="602.3" width="17" height="87.9" fill="url(#cb)"/>
<line x1="499.2" y1="607.3" x2="502.6" y2="607.3" stroke="#fff" stroke-opacity="0.55" stroke-width="0.8"/>
<line x1="512.8" y1="607.3" x2="516.2" y2="607.3" stroke="#fff" stroke-opacity="0.55" stroke-width="0.8"/>
<text x="520.5" y="612.7" font-family="Liberation Sans, sans-serif" font-size="15" fill="#111" textLength="18.2" lengthAdjust="spacing">90</text>
<line x1="499.2" y1="623.4" x2="502.6" y2="623.4" stroke="#fff" stroke-opacity="0.55" stroke-width="0.8"/>
<line x1="512.8" y1="623.4" x2="516.2" y2="623.4" stroke="#fff" stroke-opacity="0.55" stroke-width="0.8"/>
<text x="520.5" y="628.8" font-family="Liberation Sans, sans-serif" font-size="15" fill="#111" textLength="18.2" lengthAdjust="spacing">80</text>
<line x1="499.2" y1="639.5" x2="502.6" y2="639.5" stroke="#fff" stroke-opacity="0.55" stroke-width="0.8"/>
<line x1="512.8" y1="639.5" x2="516.2" y2="639.5" stroke="#fff" stroke-opacity="0.55" stroke-width="0.8"/>
<text x="520.5" y="644.9" font-family="Liberation Sans, sans-serif" font-size="15" fill="#111" textLength="18.2" lengthAdjust="spacing">70</text>
<line x1="499.2" y1="655.6" x2="502.6" y2="655.6" stroke="#fff" stroke-opacity="0.55" stroke-width="0.8"/>
<line x1="512.8" y1="655.6" x2="516.2" y2="655.6" stroke="#fff" stroke-opacity="0.55" stroke-width="0.8"/>
<text x="520.5" y="661" font-family="Liberation Sans, sans-serif" font-size="15" fill="#111" textLength="18.2" lengthAdjust="spacing">60</text>
<line x1="499.2" y1="671.7" x2="502.6" y2="671.7" stroke="#fff" stroke-opacity="0.55" stroke-width="0.8"/>
<line x1="512.8" y1="671.7" x2="516.2" y2="671.7" stroke="#fff" stroke-opacity="0.55" stroke-width="0.8"/>
<text x="520.5" y="677.1" font-family="Liberation Sans, sans-serif" font-size="15" fill="#111" textLength="18.2" lengthAdjust="spacing">50</text>
<line x1="499.2" y1="687.8" x2="502.6" y2="687.8" stroke="#fff" stroke-opacity="0.55" stroke-width="0.8"/>
<line x1="512.8" y1="687.8" x2="516.2" y2="687.8" stroke="#fff" stroke-opacity="0.55" stroke-width="0.8"/>
<text x="520.5" y="693.2" font-family="Liberation Sans, sans-serif" font-size="15" fill="#111" textLength="18.2" lengthAdjust="spacing">40</text>
<path d="M264.31,906.40 A181.0,181.0 0 1 1 246.32,1267.61 L248.64,1242.92 A156.2,156.2 0 1 0 264.15,931.20Z" fill="#ff2600"/>
<path d="M244.12,1267.39 A181.0,181.0 0 0 1 262.09,906.40 L262.25,931.20 A156.2,156.2 0 0 0 246.74,1242.73Z" fill="#002bff"/>
<text x="2.6" y="910.5" font-family="Liberation Sans, sans-serif" font-weight="bold" font-size="28.5" fill="#111">C</text>
<text x="24" y="1079.8" font-family="Liberation Sans, sans-serif" font-size="11.3" fill="#111" textLength="48.9" lengthAdjust="spacingAndGlyphs">pBASL58</text>
<text x="448" y="1102" font-family="Liberation Sans, sans-serif" font-size="11.3" fill="#111" textLength="59.7" lengthAdjust="spacingAndGlyphs">pMPPla107</text>
<g fill="none" stroke="#158a8a" stroke-opacity="0.95">
<path d="M243.1,960.1Q269.3,1077.3 385.2,1045.9" stroke-width="0.65"/>
<path d="M186.8,983.6Q260.3,1073.6 290.5,961.4" stroke-width="0.65"/>
<path d="M175.1,993.3Q263.1,1076.1 350.2,992.3" stroke-width="0.65"/>
<path d="M171.2,997.1Q263.6,1077.0 361.5,1004.0" stroke-width="0.65"/>
<path d="M167.2,1001.4Q263.0,1076.9 355.7,997.6" stroke-width="0.65"/>
<path d="M162.1,1007.4Q262.9,1077.4 358.9,1001.1" stroke-width="0.65"/>
<path d="M165.1,1003.8Q261.5,1075.9 333.3,979.2" stroke-width="0.65"/>
<path d="M187.1,983.3Q263.1,1074.8 337.7,982.2" stroke-width="0.65"/>
<path d="M193.6,978.9Q266.6,1079.3 389.5,1061.6" stroke-width="0.65"/>
<path d="M167.8,1000.7Q264.9,1079.9 386.1,1048.7" stroke-width="0.65"/>
<path d="M184.9,985.0Q265.7,1078.3 382.3,1038.2" stroke-width="0.65"/>
<path d="M153.5,1019.8Q263.6,1080.1 380.2,1033.3" stroke-width="0.65"/>
<path d="M148.7,1028.3Q263.2,1080.3 377.8,1028.3" stroke-width="0.65"/>
<path d="M143.2,1040.3Q262.3,1080.0 367.7,1011.9" stroke-width="0.65"/>
<path d="M143.8,1038.7Q261.5,1079.0 354.4,996.3" stroke-width="0.65"/>
<path d="M151.0,1023.9Q261.8,1078.0 352.7,994.7" stroke-width="0.65"/>
<path d="M138.9,1053.3Q260.6,1079.4 344.6,987.4" stroke-width="0.65"/>
<path d="M143.6,1039.4Q258.7,1077.3 307.3,966.3" stroke-width="0.65"/>
<path d="M162.7,1006.7Q264.8,1081.7 391.2,1072.3" stroke-width="0.65"/>
<path d="M159.2,1011.2Q264.7,1082.0 391.4,1074.3" stroke-width="0.65"/>
<path d="M147.1,1031.3Q263.9,1083.2 391.4,1073.7" stroke-width="0.65"/>
<path d="M151.8,1022.5Q264.2,1083.7 392.1,1090.7" stroke-width="0.65"/>
<path d="M148.1,1029.3Q264.0,1084.0 392.1,1088.8" stroke-width="0.65"/>
<path d="M153.9,1019.0Q264.3,1084.1 391.4,1100.8" stroke-width="0.65"/>
<path d="M173.8,994.6Q265.6,1082.0 392.1,1090.7" stroke-width="0.65"/>
<path d="M187.9,982.8Q266.4,1081.7 391.7,1097.4" stroke-width="0.65"/>
<path d="M177.1,991.4Q265.7,1082.9 390.4,1108.2" stroke-width="0.65"/>
<path d="M174.4,993.9Q265.4,1083.7 388.3,1118.6" stroke-width="0.65"/>
<path d="M234.7,961.7Q269.2,1080.5 391.7,1097.6" stroke-width="0.65"/>
<path d="M140.9,1046.5Q263.0,1087.8 382.7,1135.6" stroke-width="0.65"/>
<path d="M138.1,1056.4Q263.1,1087.7 387.0,1123.2" stroke-width="0.65"/>
<path d="M138.2,1056.1Q263.4,1085.9 392.0,1093.2" stroke-width="0.65"/>
<path d="M138.7,1053.9Q263.5,1085.4 392.1,1086.9" stroke-width="0.65"/>
<path d="M139.0,1052.8Q263.4,1084.4 391.1,1071.6" stroke-width="0.65"/>
<path d="M137.1,1060.9Q261.8,1081.1 365.2,1008.6" stroke-width="0.65"/>
<path d="M134.4,1081.4Q261.4,1082.1 362.6,1005.4" stroke-width="0.65"/>
<path d="M134.3,1084.8Q261.5,1082.4 363.8,1006.9" stroke-width="0.65"/>
<path d="M135.0,1100.8Q260.2,1082.1 342.2,985.6" stroke-width="0.65"/>
<path d="M149.4,1147.9Q263.3,1087.6 379.1,1030.9" stroke-width="0.65"/>
<path d="M144.9,1138.5Q262.7,1086.5 373.8,1021.2" stroke-width="0.65"/>
<path d="M149.0,1147.1Q262.8,1086.7 370.1,1015.4" stroke-width="0.65"/>
<path d="M156.7,1160.0Q263.3,1087.6 371.8,1018.0" stroke-width="0.65"/>
<path d="M148.1,1145.5Q262.0,1085.7 358.4,1000.5" stroke-width="0.65"/>
<path d="M151.8,1152.2Q261.4,1085.3 344.6,987.4" stroke-width="0.65"/>
<path d="M185.5,1190.3Q265.0,1089.3 370.1,1015.4" stroke-width="0.65"/>
<path d="M167.4,1173.6Q260.0,1085.3 305.6,965.7" stroke-width="0.65"/>
<path d="M157.8,1161.6Q264.6,1092.2 391.9,1094.0" stroke-width="0.65"/>
<path d="M153.4,1154.9Q264.3,1090.7 391.6,1075.7" stroke-width="0.65"/>
<path d="M161.4,1166.5Q264.7,1090.5 389.1,1059.9" stroke-width="0.65"/>
<path d="M172.7,1179.2Q265.3,1091.3 389.5,1061.4" stroke-width="0.65"/>
<path d="M186.2,1190.8Q266.3,1093.7 392.1,1089.8" stroke-width="0.65"/>
<path d="M192.3,1195.1Q266.7,1093.8 392.1,1086.4" stroke-width="0.65"/>
<path d="M192.6,1195.2Q266.7,1093.5 392.0,1081.4" stroke-width="0.65"/>
<path d="M193.6,1195.9Q266.4,1091.6 386.1,1048.6" stroke-width="0.65"/>
<path d="M163.0,1168.4Q264.8,1093.7 389.8,1111.6" stroke-width="0.65"/>
<path d="M162.4,1167.7Q264.8,1093.3 390.8,1105.6" stroke-width="0.65"/>
<path d="M181.6,1187.2Q265.9,1094.6 390.5,1107.8" stroke-width="0.65"/>
<path d="M168.8,1175.2Q264.2,1096.6 374.6,1152.3" stroke-width="0.65"/>
<path d="M170.1,1176.5Q264.9,1095.3 384.9,1129.9" stroke-width="0.65"/>
<path d="M189.2,1193.0Q265.7,1097.1 379.0,1143.9" stroke-width="0.65"/>
<path d="M187.7,1191.9Q265.8,1096.7 381.9,1137.7" stroke-width="0.65"/>
<path d="M154.2,1156.2Q263.1,1095.8 371.2,1157.8" stroke-width="0.65"/>
<path d="M139.3,1122.8Q262.3,1093.7 371.8,1156.9" stroke-width="0.65"/>
<path d="M137.2,1114.4Q262.5,1092.5 378.4,1145.3" stroke-width="0.65"/>
<path d="M134.8,1076.1Q261.0,1092.1 355.2,1177.7" stroke-width="0.65"/>
<path d="M135.0,1100.8Q260.3,1094.3 342.5,1189.1" stroke-width="0.65"/>
<path d="M137.7,1057.9Q260.1,1092.0 336.9,1193.1" stroke-width="0.65"/>
<path d="M136.9,1061.8Q256.2,1093.6 273.2,1215.9" stroke-width="0.65"/>
<path d="M138.5,1054.9Q257.2,1093.0 288.3,1213.8" stroke-width="0.65"/>
<path d="M155.7,1016.2Q256.1,1090.8 253.1,1215.9" stroke-width="0.65"/>
<path d="M148.4,1028.7Q257.2,1091.6 277.8,1215.5" stroke-width="0.65"/>
<path d="M184.3,985.4Q261.1,1088.6 306.6,1208.8" stroke-width="0.65"/>
<path d="M180.7,988.3Q260.7,1088.8 303.4,1209.9" stroke-width="0.65"/>
<path d="M177.5,991.2Q260.3,1089.0 300.8,1210.7" stroke-width="0.65"/>
<path d="M195.7,977.6Q262.9,1087.6 326.3,1199.8" stroke-width="0.65"/>
<path d="M157.5,1013.7Q260.8,1089.6 328.6,1198.5" stroke-width="0.65"/>
<path d="M188.5,982.3Q264.1,1086.7 352.2,1180.6" stroke-width="0.65"/>
<path d="M154.7,1017.8Q262.0,1088.9 351.1,1181.6" stroke-width="0.65"/>
<path d="M149.9,1026.0Q261.7,1089.3 352.2,1180.6" stroke-width="0.65"/>
<path d="M142.6,1042.0Q261.2,1090.4 350.3,1182.4" stroke-width="0.65"/>
<path d="M166.2,1002.5Q263.3,1087.3 361.6,1170.6" stroke-width="0.65"/>
<path d="M167.4,1001.1Q263.6,1086.9 365.7,1165.6" stroke-width="0.65"/>
<path d="M186.0,984.1Q265.5,1084.6 379.2,1143.6" stroke-width="0.65"/>
<path d="M170.6,997.8Q264.6,1085.5 378.7,1144.6" stroke-width="0.65"/>
<path d="M158.5,1012.2Q263.7,1086.5 377.0,1148.0" stroke-width="0.65"/>
<path d="M167.6,1173.8Q257.8,1100.3 268.7,1216.2" stroke-width="0.65"/>
<path d="M174.7,1181.1Q258.2,1100.8 267.9,1216.2" stroke-width="0.65"/>
<path d="M152.9,1154.1Q258.4,1098.9 293.9,1212.6" stroke-width="0.65"/>
<path d="M191.0,1194.2Q264.3,1099.4 353.1,1179.8" stroke-width="0.65"/>
<path d="M188.5,1192.4Q262.8,1100.3 331.6,1196.7" stroke-width="0.65"/>
<path d="M186.5,1191.0Q261.9,1100.6 318.9,1203.6" stroke-width="0.65"/>
<path d="M184.6,1189.6Q261.1,1100.8 306.9,1208.7" stroke-width="0.65"/>
<path d="M219.4,1208.6Q264.8,1101.1 333.8,1195.2" stroke-width="0.65"/>
<path d="M245.2,1215.0Q268.6,1099.3 371.5,1157.3" stroke-width="0.65"/>
<path d="M175.0,1181.4Q263.0,1098.9 348.2,1184.3" stroke-width="0.65"/>
<path d="M145.2,1139.3Q259.7,1097.4 323.3,1201.4" stroke-width="0.65"/>
<path d="M147.2,1143.5Q259.9,1097.6 324.0,1201.1" stroke-width="0.65"/>
<path d="M148.3,1145.7Q259.5,1097.9 316.5,1204.8" stroke-width="0.65"/>
<path d="M149.0,1147.1Q261.7,1096.6 352.2,1180.6" stroke-width="0.65"/>
<path d="M149.2,1147.6Q261.2,1097.1 343.1,1188.6" stroke-width="0.65"/>
<path d="M151.0,1150.8Q261.3,1097.3 343.1,1188.6" stroke-width="0.65"/>
<path d="M153.0,1154.3Q261.4,1097.5 343.1,1188.6" stroke-width="0.65"/>
<path d="M153.9,1155.7Q262.1,1097.0 353.9,1179.0" stroke-width="0.65"/>
<path d="M154.7,1157.0Q260.3,1098.4 324.0,1201.1" stroke-width="0.65"/>
<path d="M154.3,1156.4Q260.7,1098.2 329.9,1197.7" stroke-width="0.65"/>
<path d="M159.0,1163.3Q260.4,1098.9 319.9,1203.1" stroke-width="0.65"/>
<path d="M159.9,1164.6Q261.0,1098.6 329.9,1197.7" stroke-width="0.65"/>
<path d="M162.8,1168.2Q260.9,1099.0 325.3,1200.3" stroke-width="0.65"/>
<path d="M163.7,1169.4Q261.6,1098.7 336.3,1193.6" stroke-width="0.65"/>
<path d="M165.1,1171.1Q262.0,1098.6 340.6,1190.4" stroke-width="0.65"/>
<path d="M167.2,1173.4Q260.6,1099.6 315.4,1205.2" stroke-width="0.65"/>
<path d="M170.5,1177.0Q260.8,1099.8 316.5,1204.8" stroke-width="0.65"/>
<path d="M168.4,1174.7Q261.3,1099.4 325.7,1200.2" stroke-width="0.65"/>
<path d="M168.8,1175.2Q262.3,1098.8 342.5,1189.1" stroke-width="0.65"/>
<path d="M171.0,1177.4Q262.6,1098.8 344.8,1187.2" stroke-width="0.65"/>
<path d="M173.1,1179.6Q262.8,1098.8 347.2,1185.2" stroke-width="0.65"/>
<path d="M175.4,1181.7Q263.1,1098.8 349.5,1183.2" stroke-width="0.65"/>
<path d="M176.5,1182.8Q261.8,1099.8 327.3,1199.2" stroke-width="0.65"/>
<path d="M179.5,1185.4Q261.8,1100.1 323.3,1201.4" stroke-width="0.65"/>
<path d="M175.8,1182.2Q262.1,1099.6 332.2,1196.3" stroke-width="0.65"/>
<path d="M179.3,1185.2Q262.4,1099.7 333.8,1195.2" stroke-width="0.65"/>
<path d="M179.4,1185.4Q261.8,1100.1 323.0,1201.6" stroke-width="0.65"/>
<path d="M176.6,1182.9Q261.8,1099.9 326.5,1199.7" stroke-width="0.65"/>
<path d="M176.0,1182.3Q262.1,1099.6 331.9,1196.5" stroke-width="0.65"/>
<path d="M179.2,1185.2Q262.4,1099.7 334.0,1195.1" stroke-width="0.65"/>
<path d="M197.3,976.6Q264.0,1074.7 342.8,986.0" stroke-width="0.65"/>
<path d="M195.9,977.5Q264.0,1074.8 344.4,987.3" stroke-width="0.65"/>
<path d="M194.4,978.4Q264.0,1074.9 346.1,988.7" stroke-width="0.65"/>
<path d="M193.3,979.1Q264.4,1075.4 353.6,995.5" stroke-width="0.65"/>
<path d="M192.8,979.4Q264.5,1075.5 355.1,997.0" stroke-width="0.65"/>
<path d="M192.3,979.8Q264.5,1075.6 356.5,998.5" stroke-width="0.65"/>
<path d="M190.2,981.1Q264.7,1076.1 361.9,1004.5" stroke-width="0.65"/>
<path d="M187.6,983.0Q264.6,1076.2 362.9,1005.7" stroke-width="0.65"/>
<path d="M185.1,984.8Q264.6,1076.4 363.9,1007.0" stroke-width="0.65"/>
<path d="M182.6,986.8Q264.5,1076.6 364.9,1008.1" stroke-width="0.65"/>
<path d="M183.4,986.2Q264.8,1077.0 370.4,1015.7" stroke-width="0.65"/>
<path d="M182.2,987.1Q264.8,1077.1 370.8,1016.4" stroke-width="0.65"/>
<path d="M181.2,987.9Q264.8,1077.2 371.2,1017.0" stroke-width="0.65"/>
<path d="M178.3,990.4Q264.3,1077.0 367.0,1011.0" stroke-width="0.65"/>
<path d="M177.6,991.0Q265.4,1079.2 385.6,1046.9" stroke-width="0.65"/>
<path d="M175.9,992.6Q265.4,1079.5 386.6,1050.2" stroke-width="0.65"/>
<path d="M174.1,994.2Q265.3,1079.8 387.6,1053.5" stroke-width="0.65"/>
<path d="M175.5,993.0Q265.1,1078.8 382.8,1039.2" stroke-width="0.65"/>
<path d="M173.2,995.1Q265.0,1079.1 383.5,1041.0" stroke-width="0.65"/>
<path d="M153.0,1020.6Q263.8,1080.5 382.8,1039.2" stroke-width="0.65"/>
<path d="M151.7,1022.8Q263.8,1080.8 384.0,1042.3" stroke-width="0.65"/>
<path d="M150.3,1025.1Q263.7,1081.1 385.1,1045.4" stroke-width="0.65"/>
<path d="M158.9,1011.6Q263.7,1079.0 375.2,1023.6" stroke-width="0.65"/>
<path d="M158.3,1012.5Q263.7,1079.2 376.6,1026.2" stroke-width="0.65"/>
<path d="M157.6,1013.4Q263.8,1079.4 378.0,1028.8" stroke-width="0.65"/>
<path d="M142.0,1043.4Q263.5,1086.3 389.6,1112.8" stroke-width="0.65"/>
<path d="M143.1,1040.5Q263.6,1085.9 390.3,1108.6" stroke-width="0.65"/>
<path d="M144.3,1037.7Q263.7,1085.5 390.8,1105.9" stroke-width="0.65"/>
<path d="M145.4,1035.1Q263.8,1085.1 391.3,1101.9" stroke-width="0.65"/>
<path d="M146.2,1033.4Q263.9,1084.9 391.5,1100.3" stroke-width="0.65"/>
<path d="M263.0,958.5Q263.2,1071.9 263.4,958.5" stroke-width="0.9"/>
<path d="M261.7,958.5Q263.2,1071.9 264.4,958.5" stroke-width="0.9"/>
<path d="M260.5,958.5Q263.2,1071.9 266.4,958.5" stroke-width="0.9"/>
<path d="M259.6,958.5Q263.2,1071.9 266.9,958.6" stroke-width="0.9"/>
<path d="M258.2,958.6Q263.2,1071.9 268.1,958.6" stroke-width="0.9"/>
<path d="M257.2,958.6Q263.2,1071.9 268.8,958.6" stroke-width="0.9"/>
<path d="M256.6,958.7Q263.2,1072.0 269.4,958.7" stroke-width="0.9"/>
<path d="M255.7,958.7Q263.2,1072.0 270.5,958.7" stroke-width="0.9"/>
<path d="M254.5,958.8Q263.2,1072.0 272.5,958.8" stroke-width="0.9"/>
<path d="M253.4,958.9Q263.2,1072.0 272.6,958.8" stroke-width="0.9"/>
<path d="M251.5,959.0Q263.2,1072.0 274.6,959.0" stroke-width="0.9"/>
<path d="M250.9,959.1Q263.2,1072.0 275.0,959.0" stroke-width="0.9"/>
<path d="M249.6,959.2Q263.2,1072.0 276.4,959.2" stroke-width="0.9"/>
<path d="M248.8,959.3Q263.2,1072.0 277.2,959.3" stroke-width="0.9"/>
<path d="M247.4,959.5Q263.2,1072.0 278.3,959.4" stroke-width="0.9"/>
<path d="M246.2,959.6Q263.1,1072.1 279.3,959.5" stroke-width="0.9"/>
<path d="M245.9,959.7Q263.2,1072.1 279.7,959.6" stroke-width="0.9"/>
<path d="M244.5,959.9Q263.2,1072.1 281.5,959.8" stroke-width="0.9"/>
<path d="M243.3,960.0Q263.2,1072.1 282.5,960.0" stroke-width="0.9"/>
<path d="M242.1,960.2Q263.1,1072.1 282.8,960.0" stroke-width="0.9"/>
<path d="M241.0,960.4Q263.1,1072.1 283.8,960.2" stroke-width="0.9"/>
<path d="M240.4,960.5Q263.1,1072.2 285.1,960.4" stroke-width="0.9"/>
<path d="M239.3,960.7Q263.1,1072.2 285.5,960.4" stroke-width="0.9"/>
<path d="M238.6,960.9Q263.1,1072.2 286.5,960.6" stroke-width="0.9"/>
<path d="M237.6,961.1Q263.2,1072.2 288.4,961.0" stroke-width="0.9"/>
<path d="M236.3,961.3Q263.1,1072.3 288.5,961.0" stroke-width="0.9"/>
<path d="M235.0,961.6Q263.1,1072.3 290.1,961.3" stroke-width="0.9"/>
<path d="M233.6,962.0Q263.1,1072.3 291.3,961.6" stroke-width="0.9"/>
<path d="M232.9,962.1Q263.1,1072.3 291.9,961.7" stroke-width="0.9"/>
<path d="M231.6,962.4Q263.1,1072.4 292.6,961.9" stroke-width="0.9"/>
<path d="M230.7,962.7Q263.1,1072.4 294.1,962.3" stroke-width="0.9"/>
<path d="M229.9,962.9Q263.1,1072.4 295.3,962.6" stroke-width="0.9"/>
<path d="M228.4,963.3Q263.1,1072.5 295.7,962.7" stroke-width="0.9"/>
<path d="M227.4,963.6Q263.1,1072.5 297.3,963.1" stroke-width="0.9"/>
<path d="M226.7,963.8Q263.1,1072.5 297.5,963.2" stroke-width="0.9"/>
<path d="M225.5,964.1Q263.1,1072.6 299.3,963.7" stroke-width="0.9"/>
<path d="M225.7,964.1Q263.5,1072.7 305.6,965.7" stroke-width="0.9"/>
<path d="M224.9,964.3Q263.6,1072.8 307.5,966.4" stroke-width="0.9"/>
<path d="M223.8,964.7Q263.5,1072.8 308.0,966.5" stroke-width="0.9"/>
<path d="M222.3,965.2Q263.5,1072.9 309.7,967.2" stroke-width="0.9"/>
<path d="M222.0,965.3Q263.6,1072.9 310.6,967.5" stroke-width="0.9"/>
<path d="M220.9,965.7Q263.5,1072.9 311.3,967.8" stroke-width="0.9"/>
<path d="M220.0,965.9Q263.6,1073.0 312.6,968.3" stroke-width="0.9"/>
<path d="M219.0,966.3Q263.5,1073.0 312.9,968.5" stroke-width="0.9"/>
<path d="M217.5,966.9Q263.6,1073.1 314.9,969.3" stroke-width="0.9"/>
<path d="M216.3,967.3Q263.6,1073.1 316.0,969.8" stroke-width="0.9"/>
<path d="M215.9,967.5Q263.5,1073.1 316.0,969.8" stroke-width="0.9"/>
<path d="M214.6,968.0Q263.5,1073.2 317.3,970.4" stroke-width="0.9"/>
<path d="M214.0,968.3Q263.6,1073.3 318.9,971.2" stroke-width="0.9"/>
<path d="M212.8,968.8Q263.6,1073.3 320.0,971.7" stroke-width="0.9"/>
<path d="M212.3,969.0Q263.6,1073.4 320.7,972.0" stroke-width="0.9"/>
<path d="M211.5,969.3Q263.6,1073.4 321.7,972.5" stroke-width="0.9"/>
<path d="M209.8,970.1Q263.5,1073.5 322.4,972.9" stroke-width="0.9"/>
<path d="M209.1,970.4Q263.6,1073.5 323.5,973.5" stroke-width="0.9"/>
<path d="M208.2,970.8Q263.6,1073.6 325.0,974.3" stroke-width="0.9"/>
<path d="M207.2,971.3Q263.6,1073.7 325.7,974.7" stroke-width="0.9"/>
<path d="M206.1,971.8Q263.5,1073.7 326.1,974.9" stroke-width="0.9"/>
<path d="M205.5,972.2Q263.6,1073.8 327.5,975.7" stroke-width="0.9"/>
<path d="M204.2,972.8Q263.6,1073.9 328.6,976.3" stroke-width="0.9"/>
<path d="M203.8,973.0Q263.6,1073.9 329.3,976.7" stroke-width="0.9"/>
<path d="M202.3,973.8Q263.6,1074.0 330.2,977.3" stroke-width="0.9"/>
<path d="M201.5,974.2Q263.6,1074.0 331.0,977.8" stroke-width="0.9"/>
<path d="M200.6,974.7Q263.6,1074.1 332.2,978.5" stroke-width="0.9"/>
<path d="M199.9,975.1Q263.6,1074.2 333.5,979.4" stroke-width="0.9"/>
<path d="M142.6,1042.0Q263.6,1086.2 389.7,1112.2" stroke-width="0.65"/>
<path d="M141.4,1045.2Q263.5,1086.4 389.5,1113.2" stroke-width="0.65"/>
<path d="M140.2,1049.0Q263.4,1086.8 389.0,1115.3" stroke-width="0.65"/>
<path d="M139.3,1052.0Q263.3,1087.1 388.5,1117.5" stroke-width="0.65"/>
<path d="M138.5,1054.8Q263.2,1087.4 388.0,1119.5" stroke-width="0.65"/>
<path d="M137.8,1057.4Q263.1,1087.7 387.5,1121.6" stroke-width="0.65"/>
<path d="M137.1,1060.6Q263.0,1088.0 386.7,1124.5" stroke-width="0.65"/>
<path d="M136.6,1062.9Q263.0,1088.2 386.2,1125.9" stroke-width="0.65"/>
<path d="M136.2,1065.3Q262.9,1088.5 385.4,1128.5" stroke-width="0.65"/>
<path d="M135.7,1068.5Q262.8,1088.9 384.5,1130.9" stroke-width="0.65"/>
<path d="M135.4,1070.7Q262.8,1089.1 383.9,1132.7" stroke-width="0.65"/>
<path d="M134.8,1076.0Q262.7,1089.6 383.0,1135.0" stroke-width="0.65"/>
<path d="M134.6,1078.3Q262.6,1089.9 381.6,1138.4" stroke-width="0.65"/>
<path d="M134.5,1080.9Q262.5,1090.2 380.8,1140.2" stroke-width="0.65"/>
<path d="M134.4,1083.6Q262.5,1090.5 379.7,1142.6" stroke-width="0.65"/>
<path d="M134.3,1086.1Q262.4,1090.7 378.7,1144.6" stroke-width="0.65"/>
<path d="M134.3,1088.5Q262.3,1091.1 377.3,1147.3" stroke-width="0.65"/>
<path d="M134.4,1091.5Q262.2,1091.4 376.0,1149.8" stroke-width="0.65"/>
<path d="M134.5,1093.8Q262.2,1091.7 374.8,1151.9" stroke-width="0.65"/>
<path d="M134.6,1096.7Q262.1,1092.0 373.0,1154.9" stroke-width="0.65"/>
<path d="M134.9,1099.7Q262.0,1092.3 371.5,1157.3" stroke-width="0.65"/>
<path d="M135.1,1101.4Q261.9,1092.6 370.2,1159.3" stroke-width="0.65"/>
<path d="M135.4,1104.3Q261.9,1092.9 368.7,1161.4" stroke-width="0.65"/>
<path d="M135.8,1107.0Q261.8,1093.1 367.7,1162.8" stroke-width="0.65"/>
<path d="M136.3,1109.8Q261.8,1093.4 366.4,1164.7" stroke-width="0.65"/>
<path d="M136.7,1112.0Q261.7,1093.6 364.9,1166.6" stroke-width="0.65"/>
<path d="M137.4,1115.6Q261.7,1093.9 364.5,1167.1" stroke-width="0.65"/>
<path d="M138.1,1118.4Q261.7,1094.2 363.0,1169.0" stroke-width="0.65"/>
<path d="M139.0,1121.7Q261.7,1094.4 362.1,1170.0" stroke-width="0.65"/>
<path d="M139.7,1124.2Q261.7,1094.6 360.9,1171.4" stroke-width="0.65"/>
<path d="M140.8,1127.7Q261.7,1094.9 360.5,1172.0" stroke-width="0.65"/>
<path d="M141.7,1130.6Q261.7,1095.2 359.2,1173.4" stroke-width="0.65"/>
<path d="M142.7,1133.2Q261.6,1095.5 356.6,1176.2" stroke-width="0.65"/>
<path d="M143.9,1136.2Q261.5,1095.8 354.3,1178.6" stroke-width="0.65"/>
<path d="M145.0,1138.9Q261.5,1096.1 352.4,1180.5" stroke-width="0.65"/>
<path d="M146.5,1142.0Q261.4,1096.4 349.7,1183.0" stroke-width="0.65"/>
<path d="M189.4,1193.1Q261.5,1101.0 309.1,1207.9" stroke-width="0.9"/>
<path d="M191.1,1194.2Q261.5,1101.1 307.6,1208.4" stroke-width="0.9"/>
<path d="M193.1,1195.6Q261.6,1101.2 305.9,1209.0" stroke-width="0.9"/>
<path d="M194.9,1196.7Q261.5,1101.3 303.5,1209.8" stroke-width="0.9"/>
<path d="M196.8,1197.9Q261.5,1101.4 301.8,1210.4" stroke-width="0.9"/>
<path d="M198.6,1198.9Q261.5,1101.5 299.5,1211.1" stroke-width="0.9"/>
<path d="M201.0,1200.3Q261.6,1101.6 298.0,1211.5" stroke-width="0.9"/>
<path d="M202.5,1201.1Q261.5,1101.7 296.2,1212.0" stroke-width="0.9"/>
<path d="M204.7,1202.3Q261.5,1101.8 293.9,1212.6" stroke-width="0.9"/>
<path d="M206.9,1203.3Q261.5,1101.9 291.7,1213.1" stroke-width="0.9"/>
<path d="M208.7,1204.2Q261.5,1102.0 289.5,1213.6" stroke-width="0.9"/>
<path d="M211.2,1205.3Q261.4,1102.1 285.9,1214.3" stroke-width="0.9"/>
<path d="M213.2,1206.2Q261.5,1102.2 284.4,1214.5" stroke-width="0.9"/>
<path d="M215.2,1207.0Q261.4,1102.2 281.8,1215.0" stroke-width="0.9"/>
<path d="M217.3,1207.9Q261.5,1102.3 280.7,1215.1" stroke-width="0.9"/>
<path d="M218.6,1208.3Q261.4,1102.3 278.2,1215.4" stroke-width="0.9"/>
<path d="M221.6,1209.4Q261.5,1102.4 277.3,1215.5" stroke-width="0.9"/>
<path d="M223.0,1209.9Q261.5,1102.5 274.8,1215.8" stroke-width="0.9"/>
<path d="M225.0,1210.5Q261.5,1102.5 273.3,1215.9" stroke-width="0.9"/>
<path d="M228.0,1211.4Q261.6,1102.6 271.1,1216.1" stroke-width="0.9"/>
<path d="M229.8,1211.9Q261.6,1102.6 269.5,1216.1" stroke-width="0.9"/>
<path d="M232.9,1212.7Q261.6,1102.6 266.2,1216.3" stroke-width="0.9"/>
<path d="M235.1,1213.2Q261.6,1102.7 264.9,1216.3" stroke-width="0.9"/>
<path d="M237.0,1213.6Q261.6,1102.7 263.1,1216.3" stroke-width="0.9"/>
<path d="M239.2,1214.0Q261.6,1102.7 261.3,1216.3" stroke-width="0.9"/>
<path d="M241.2,1214.4Q261.6,1102.8 258.7,1216.2" stroke-width="0.9"/>
<path d="M243.2,1214.7Q261.6,1102.8 257.2,1216.2" stroke-width="0.9"/>
<path d="M245.3,1215.1Q261.6,1102.8 255.2,1216.1" stroke-width="0.9"/>
<path d="M247.6,1215.3Q261.7,1102.8 253.4,1215.9" stroke-width="0.9"/>
<path d="M249.0,1215.5Q261.6,1102.8 251.1,1215.7" stroke-width="0.9"/>
</g>
<g fill="#127e7e">
<circle cx="312.8" cy="958.5" r="1.05"/>
<circle cx="264.7" cy="1217.9" r="1.05"/>
<circle cx="212.8" cy="1209.0" r="1.05"/>
<circle cx="156.7" cy="1179.9" r="1.05"/>
<circle cx="208.1" cy="967.4" r="1.05"/>
<circle cx="291.9" cy="954.7" r="1.05"/>
<circle cx="284.5" cy="1219.5" r="1.05"/>
<circle cx="320.0" cy="1219.0" r="1.05"/>
<circle cx="242.0" cy="953.4" r="1.05"/>
<circle cx="195.4" cy="1199.6" r="1.05"/>
<circle cx="226.4" cy="1212.7" r="1.05"/>
<circle cx="347.9" cy="972.8" r="1.05"/>
<circle cx="329.5" cy="1211.2" r="1.05"/>
<circle cx="210.3" cy="967.4" r="1.05"/>
<circle cx="309.3" cy="1219.2" r="1.05"/>
<circle cx="284.8" cy="1226.2" r="1.05"/>
<circle cx="390.1" cy="1056.7" r="1.05"/>
<circle cx="143.6" cy="1140.3" r="1.05"/>
<circle cx="159.7" cy="990.7" r="1.05"/>
<circle cx="394.0" cy="1033.2" r="1.05"/>
<circle cx="208.5" cy="966.6" r="1.05"/>
<circle cx="273.4" cy="944.6" r="1.05"/>
<circle cx="327.1" cy="970.7" r="1.05"/>
<circle cx="313.6" cy="959.7" r="1.05"/>
<circle cx="141.2" cy="1147.8" r="1.05"/>
<circle cx="334.7" cy="1213.7" r="1.05"/>
<circle cx="391.1" cy="1122.3" r="1.05"/>
<circle cx="397.3" cy="1115.9" r="1.05"/>
<circle cx="176.8" cy="986.4" r="1.05"/>
<circle cx="191.5" cy="968.2" r="1.05"/>
<circle cx="124.6" cy="1044.9" r="1.05"/>
<circle cx="296.5" cy="1216.0" r="1.05"/>
<circle cx="244.9" cy="1219.6" r="1.05"/>
<circle cx="390.5" cy="1039.1" r="1.05"/>
<circle cx="210.9" cy="1209.5" r="1.05"/>
<circle cx="364.7" cy="1187.7" r="1.05"/>
<circle cx="280.4" cy="955.4" r="1.05"/>
<circle cx="275.4" cy="1229.5" r="1.05"/>
<circle cx="232.8" cy="957.3" r="1.05"/>
<circle cx="389.4" cy="1028.7" r="1.05"/>
<circle cx="315.1" cy="965.7" r="1.05"/>
<circle cx="227.7" cy="951.5" r="1.05"/>
<circle cx="226.0" cy="955.1" r="1.05"/>
<circle cx="256.2" cy="953.1" r="1.05"/>
<circle cx="250.2" cy="945.8" r="1.05"/>
<circle cx="128.9" cy="1080.7" r="1.05"/>
<circle cx="273.6" cy="956.8" r="1.05"/>
<circle cx="204.8" cy="967.8" r="1.05"/>
<circle cx="178.2" cy="986.4" r="1.05"/>
<circle cx="159.8" cy="1186.5" r="1.05"/>
<circle cx="282.0" cy="1220.0" r="1.05"/>
<circle cx="220.0" cy="1211.4" r="1.05"/>
<circle cx="338.7" cy="1209.4" r="1.05"/>
<circle cx="380.0" cy="1156.0" r="1.05"/>
<circle cx="188.5" cy="980.2" r="1.05"/>
<circle cx="197.7" cy="958.7" r="1.05"/>
<circle cx="276.5" cy="955.4" r="1.05"/>
<circle cx="264.8" cy="954.0" r="1.05"/>
<circle cx="371.2" cy="995.9" r="1.05"/>
<circle cx="395.4" cy="1041.4" r="1.05"/>
<circle cx="267.2" cy="1227.3" r="1.05"/>
<circle cx="192.6" cy="1210.4" r="1.05"/>
<circle cx="277.2" cy="944.1" r="1.05"/>
<circle cx="394.1" cy="1100.8" r="1.05"/>
<circle cx="186.0" cy="1201.1" r="1.05"/>
<circle cx="249.2" cy="1229.9" r="1.05"/>
<circle cx="129.8" cy="1086.3" r="1.05"/>
<circle cx="267.7" cy="1226.2" r="1.05"/>
<circle cx="395.8" cy="1065.3" r="1.05"/>
<circle cx="134.3" cy="1029.5" r="1.05"/>
<circle cx="394.4" cy="1040.2" r="1.05"/>
<circle cx="242.5" cy="1229.9" r="1.05"/>
<circle cx="128.0" cy="1115.8" r="1.05"/>
<circle cx="262.6" cy="1224.2" r="1.05"/>
<circle cx="154.4" cy="996.1" r="1.05"/>
<circle cx="208.3" cy="954.8" r="1.05"/>
<circle cx="241.9" cy="1218.5" r="1.05"/>
<circle cx="379.8" cy="1159.9" r="1.05"/>
<circle cx="247.5" cy="955.4" r="1.05"/>
<circle cx="144.4" cy="1003.7" r="1.05"/>
<circle cx="206.9" cy="958.9" r="1.05"/>
<circle cx="318.4" cy="968.8" r="1.05"/>
<circle cx="293.4" cy="949.7" r="1.05"/>
<circle cx="147.0" cy="1174.6" r="1.05"/>
<circle cx="251.2" cy="1225.7" r="1.05"/>
<circle cx="371.7" cy="1006.9" r="1.05"/>
<circle cx="336.3" cy="1197.2" r="1.05"/>
<circle cx="151.7" cy="1168.1" r="1.05"/>
<circle cx="223.0" cy="1216.6" r="1.05"/>
<circle cx="253.0" cy="1217.7" r="1.05"/>
<circle cx="270.3" cy="1218.6" r="1.05"/>
<circle cx="120.6" cy="1067.4" r="1.05"/>
<circle cx="313.8" cy="1215.1" r="1.05"/>
<circle cx="118.4" cy="1100.7" r="1.05"/>
<circle cx="127.6" cy="1097.1" r="1.05"/>
<circle cx="247.3" cy="1228.8" r="1.05"/>
<circle cx="267.0" cy="949.2" r="1.05"/>
<circle cx="230.1" cy="948.6" r="1.05"/>
<circle cx="214.6" cy="1221.6" r="1.05"/>
<circle cx="308.9" cy="1212.0" r="1.05"/>
<circle cx="197.1" cy="1216.2" r="1.05"/>
<circle cx="189.0" cy="969.6" r="1.05"/>
<circle cx="261.7" cy="946.3" r="1.05"/>
<circle cx="350.2" cy="1191.9" r="1.05"/>
<circle cx="220.7" cy="962.4" r="1.05"/>
<circle cx="213.1" cy="1211.0" r="1.05"/>
<circle cx="275.4" cy="1232.8" r="1.05"/>
<circle cx="129.8" cy="1028.8" r="1.05"/>
<circle cx="255.1" cy="954.7" r="1.05"/>
<circle cx="258.9" cy="1227.6" r="1.05"/>
<circle cx="183.3" cy="1193.0" r="1.05"/>
<circle cx="298.7" cy="956.9" r="1.05"/>
<circle cx="129.5" cy="1139.7" r="1.05"/>
<circle cx="217.6" cy="1218.4" r="1.05"/>
<circle cx="260.8" cy="955.0" r="1.05"/>
<circle cx="349.3" cy="978.8" r="1.05"/>
<circle cx="129.7" cy="1037.8" r="1.05"/>
<circle cx="368.1" cy="1167.6" r="1.05"/>
<circle cx="350.2" cy="1187.0" r="1.05"/>
<circle cx="229.5" cy="957.3" r="1.05"/>
<circle cx="230.6" cy="960.3" r="1.05"/>
<circle cx="315.8" cy="966.8" r="1.05"/>
<circle cx="397.3" cy="1083.1" r="1.05"/>
<circle cx="292.1" cy="957.7" r="1.05"/>
<circle cx="125.2" cy="1126.7" r="1.05"/>
<circle cx="229.1" cy="959.9" r="1.05"/>
<circle cx="190.0" cy="1206.7" r="1.05"/>
<circle cx="227.1" cy="1219.0" r="1.05"/>
<circle cx="330.9" cy="974.7" r="1.05"/>
<circle cx="147.0" cy="1158.3" r="1.05"/>
<circle cx="262.9" cy="1222.7" r="1.05"/>
<circle cx="396.6" cy="1067.5" r="1.05"/>
<circle cx="163.0" cy="1003.1" r="1.05"/>
<circle cx="383.9" cy="1032.2" r="1.05"/>
<circle cx="133.8" cy="1118.4" r="1.05"/>
<circle cx="358.8" cy="1190.2" r="1.05"/>
<circle cx="204.6" cy="1211.5" r="1.05"/>
<circle cx="264.0" cy="952.5" r="1.05"/>
<circle cx="180.6" cy="1190.6" r="1.05"/>
<circle cx="134.9" cy="1053.2" r="1.05"/>
<circle cx="303.3" cy="1218.5" r="1.05"/>
<circle cx="298.8" cy="961.0" r="1.05"/>
<circle cx="400.1" cy="1087.1" r="1.05"/>
<circle cx="141.7" cy="1153.9" r="1.05"/>
<circle cx="173.3" cy="985.8" r="1.05"/>
<circle cx="123.7" cy="1078.2" r="1.05"/>
<circle cx="144.4" cy="1021.0" r="1.05"/>
<circle cx="391.8" cy="1051.3" r="1.05"/>
<circle cx="351.9" cy="984.2" r="1.05"/>
<circle cx="390.2" cy="1015.6" r="1.05"/>
<circle cx="117.5" cy="1087.0" r="1.05"/>
<circle cx="209.8" cy="1213.8" r="1.05"/>
<circle cx="270.5" cy="947.4" r="1.05"/>
<circle cx="373.0" cy="995.0" r="1.05"/>
<circle cx="400.8" cy="1128.6" r="1.05"/>
<circle cx="199.5" cy="959.0" r="1.05"/>
<circle cx="221.8" cy="1211.9" r="1.05"/>
<circle cx="299.9" cy="949.0" r="1.05"/>
<circle cx="218.1" cy="962.3" r="1.05"/>
<circle cx="237.3" cy="952.6" r="1.05"/>
<circle cx="265.5" cy="954.6" r="1.05"/>
<circle cx="325.7" cy="1211.0" r="1.05"/>
<circle cx="330.1" cy="1211.3" r="1.05"/>
<circle cx="309.9" cy="1212.5" r="1.05"/>
<circle cx="337.3" cy="962.1" r="1.05"/>
<circle cx="171.2" cy="1199.8" r="1.05"/>
<circle cx="279.6" cy="1222.2" r="1.05"/>
<circle cx="170.0" cy="981.6" r="1.05"/>
<circle cx="307.5" cy="1216.3" r="1.05"/>
<circle cx="195.5" cy="1209.1" r="1.05"/>
<circle cx="350.7" cy="1202.2" r="1.05"/>
<circle cx="224.1" cy="1212.7" r="1.05"/>
<circle cx="219.2" cy="1212.1" r="1.05"/>
<circle cx="251.9" cy="1223.8" r="1.05"/>
<circle cx="322.1" cy="969.1" r="1.05"/>
<circle cx="133.6" cy="1110.8" r="1.05"/>
<circle cx="309.5" cy="965.1" r="1.05"/>
<circle cx="184.2" cy="1204.7" r="1.05"/>
<circle cx="164.7" cy="994.0" r="1.05"/>
<circle cx="137.0" cy="1022.5" r="1.05"/>
<circle cx="218.3" cy="954.9" r="1.05"/>
<circle cx="138.0" cy="1044.1" r="1.05"/>
<circle cx="406.6" cy="1091.5" r="1.05"/>
<circle cx="198.5" cy="1202.7" r="1.05"/>
<circle cx="135.0" cy="1045.1" r="1.05"/>
<circle cx="231.3" cy="1216.9" r="1.05"/>
<circle cx="275.2" cy="949.6" r="1.05"/>
<circle cx="292.5" cy="958.1" r="1.05"/>
<circle cx="177.3" cy="1190.1" r="1.05"/>
<circle cx="300.5" cy="954.8" r="1.05"/>
<circle cx="202.4" cy="1203.0" r="1.05"/>
<circle cx="197.5" cy="1208.3" r="1.05"/>
<circle cx="251.2" cy="947.0" r="1.05"/>
<circle cx="263.2" cy="1226.1" r="1.05"/>
<circle cx="293.8" cy="946.7" r="1.05"/>
<circle cx="156.3" cy="1182.1" r="1.05"/>
<circle cx="134.2" cy="1146.8" r="1.05"/>
<circle cx="255.4" cy="1226.2" r="1.05"/>
<circle cx="338.7" cy="1199.9" r="1.05"/>
<circle cx="253.4" cy="953.5" r="1.05"/>
<circle cx="362.4" cy="1000.6" r="1.05"/>
<circle cx="307.9" cy="1212.8" r="1.05"/>
<circle cx="320.6" cy="957.8" r="1.05"/>
<circle cx="193.4" cy="1208.2" r="1.05"/>
<circle cx="252.4" cy="950.7" r="1.05"/>
<circle cx="156.9" cy="989.7" r="1.05"/>
<circle cx="283.6" cy="947.5" r="1.05"/>
<circle cx="230.4" cy="948.2" r="1.05"/>
<circle cx="372.3" cy="993.3" r="1.05"/>
<circle cx="375.0" cy="1156.1" r="1.05"/>
<circle cx="163.6" cy="1185.4" r="1.05"/>
<circle cx="275.6" cy="942.1" r="1.05"/>
<circle cx="309.9" cy="960.1" r="1.05"/>
<circle cx="342.1" cy="968.9" r="1.05"/>
<circle cx="189.4" cy="1206.2" r="1.05"/>
<circle cx="243.6" cy="950.2" r="1.05"/>
<circle cx="213.2" cy="958.9" r="1.05"/>
<circle cx="333.6" cy="976.4" r="1.05"/>
<circle cx="261.5" cy="1232.5" r="1.05"/>
<circle cx="369.3" cy="1181.7" r="1.05"/>
<circle cx="195.7" cy="961.8" r="1.05"/>
<circle cx="264.2" cy="1230.3" r="1.05"/>
<circle cx="295.7" cy="1214.1" r="1.05"/>
<circle cx="127.2" cy="1101.6" r="1.05"/>
<circle cx="160.0" cy="997.5" r="1.05"/>
<circle cx="166.8" cy="1181.3" r="1.05"/>
<circle cx="320.7" cy="1217.5" r="1.05"/>
<circle cx="160.7" cy="1169.3" r="1.05"/>
<circle cx="206.9" cy="1208.0" r="1.05"/>
<circle cx="174.8" cy="979.2" r="1.05"/>
<circle cx="301.3" cy="1212.9" r="1.05"/>
<circle cx="258.9" cy="955.2" r="1.05"/>
<circle cx="242.2" cy="958.1" r="1.05"/>
<circle cx="122.7" cy="1099.8" r="1.05"/>
<circle cx="334.4" cy="975.5" r="1.05"/>
<circle cx="292.2" cy="949.2" r="1.05"/>
<circle cx="295.5" cy="954.1" r="1.05"/>
<circle cx="343.7" cy="983.5" r="1.05"/>
<circle cx="171.6" cy="991.6" r="1.05"/>
<circle cx="320.9" cy="1207.0" r="1.05"/>
<circle cx="371.2" cy="1165.3" r="1.05"/>
<circle cx="320.6" cy="963.2" r="1.05"/>
<circle cx="214.0" cy="1219.7" r="1.05"/>
<circle cx="223.0" cy="1214.3" r="1.05"/>
<circle cx="240.0" cy="952.5" r="1.05"/>
<circle cx="267.5" cy="956.2" r="1.05"/>
<circle cx="177.5" cy="1189.8" r="1.05"/>
<circle cx="306.2" cy="953.6" r="1.05"/>
<circle cx="223.7" cy="1211.8" r="1.05"/>
<circle cx="254.9" cy="1218.3" r="1.05"/>
<circle cx="227.2" cy="1217.1" r="1.05"/>
<circle cx="284.4" cy="1230.7" r="1.05"/>
<circle cx="237.5" cy="1228.2" r="1.05"/>
<circle cx="394.7" cy="1078.0" r="1.05"/>
<circle cx="298.9" cy="959.3" r="1.05"/>
<circle cx="355.4" cy="992.8" r="1.05"/>
<circle cx="244.9" cy="1222.8" r="1.05"/>
<circle cx="260.6" cy="949.5" r="1.05"/>
<circle cx="277.8" cy="956.8" r="1.05"/>
<circle cx="152.6" cy="997.2" r="1.05"/>
<circle cx="170.5" cy="1188.8" r="1.05"/>
<circle cx="140.5" cy="1159.3" r="1.05"/>
<circle cx="125.7" cy="1081.3" r="1.05"/>
<circle cx="330.4" cy="1200.8" r="1.05"/>
<circle cx="270.5" cy="1219.7" r="1.05"/>
<circle cx="299.1" cy="949.6" r="1.05"/>
<circle cx="132.5" cy="1071.0" r="1.05"/>
<circle cx="133.6" cy="1028.9" r="1.05"/>
<circle cx="207.5" cy="1217.5" r="1.05"/>
<circle cx="278.0" cy="1223.6" r="1.05"/>
<circle cx="248.2" cy="1217.9" r="1.05"/>
<circle cx="218.2" cy="1210.7" r="1.05"/>
<circle cx="401.9" cy="1093.6" r="1.05"/>
<circle cx="273.1" cy="1230.0" r="1.05"/>
<circle cx="215.3" cy="1217.6" r="1.05"/>
<circle cx="191.1" cy="1197.8" r="1.05"/>
<circle cx="165.8" cy="986.2" r="1.05"/>
<circle cx="264.7" cy="1222.5" r="1.05"/>
<circle cx="400.7" cy="1049.2" r="1.05"/>
<circle cx="222.3" cy="959.3" r="1.05"/>
<circle cx="371.6" cy="1013.6" r="1.05"/>
<circle cx="246.2" cy="952.1" r="1.05"/>
<circle cx="161.1" cy="1171.0" r="1.05"/>
<circle cx="259.9" cy="952.4" r="1.05"/>
<circle cx="229.1" cy="1217.7" r="1.05"/>
<circle cx="289.8" cy="958.6" r="1.05"/>
<circle cx="216.8" cy="959.9" r="1.05"/>
<circle cx="304.7" cy="1214.1" r="1.05"/>
<circle cx="321.9" cy="961.4" r="1.05"/>
<circle cx="294.9" cy="1215.5" r="1.05"/>
<circle cx="154.8" cy="1169.5" r="1.05"/>
<circle cx="375.9" cy="1019.7" r="1.05"/>
<circle cx="281.0" cy="1230.4" r="1.05"/>
<circle cx="233.4" cy="1217.1" r="1.05"/>
<circle cx="233.7" cy="1217.7" r="1.05"/>
<circle cx="339.5" cy="1197.8" r="1.05"/>
<circle cx="179.5" cy="985.4" r="1.05"/>
<circle cx="140.0" cy="1137.1" r="1.05"/>
<circle cx="401.2" cy="1099.7" r="1.05"/>
<circle cx="318.7" cy="952.6" r="1.05"/>
<circle cx="299.9" cy="949.0" r="1.05"/>
<circle cx="333.8" cy="1201.7" r="1.05"/>
<circle cx="367.9" cy="1001.2" r="1.05"/>
<circle cx="265.4" cy="1220.1" r="1.05"/>
<circle cx="154.7" cy="1181.4" r="1.05"/>
<circle cx="130.9" cy="1056.4" r="1.05"/>
<circle cx="146.3" cy="1014.9" r="1.05"/>
<circle cx="137.2" cy="1052.5" r="1.05"/>
<circle cx="299.1" cy="1218.6" r="1.05"/>
<circle cx="399.6" cy="1124.4" r="1.05"/>
<circle cx="140.4" cy="1041.3" r="1.05"/>
<circle cx="132.9" cy="1023.1" r="1.05"/>
<circle cx="363.9" cy="1173.3" r="1.05"/>
<circle cx="263.5" cy="955.5" r="1.05"/>
<circle cx="378.4" cy="1173.6" r="1.05"/>
<circle cx="251.6" cy="1220.1" r="1.05"/>
<circle cx="144.4" cy="1156.4" r="1.05"/>
<circle cx="226.5" cy="952.0" r="1.05"/>
<circle cx="264.7" cy="1218.1" r="1.05"/>
<circle cx="212.3" cy="1222.4" r="1.05"/>
<circle cx="295.0" cy="945.6" r="1.05"/>
<circle cx="175.3" cy="979.2" r="1.05"/>
<circle cx="303.8" cy="953.0" r="1.05"/>
<circle cx="232.2" cy="956.2" r="1.05"/>
<circle cx="381.2" cy="1170.1" r="1.05"/>
<circle cx="311.2" cy="950.1" r="1.05"/>
<circle cx="229.0" cy="946.4" r="1.05"/>
<circle cx="314.8" cy="1213.9" r="1.05"/>
<circle cx="394.3" cy="1101.3" r="1.05"/>
<circle cx="289.6" cy="1227.1" r="1.05"/>
<circle cx="209.9" cy="1207.4" r="1.05"/>
<circle cx="405.3" cy="1081.5" r="1.05"/>
<circle cx="131.9" cy="1037.5" r="1.05"/>
<circle cx="234.1" cy="947.9" r="1.05"/>
<circle cx="370.2" cy="1164.9" r="1.05"/>
<circle cx="245.8" cy="1217.1" r="1.05"/>
<circle cx="380.5" cy="1160.6" r="1.05"/>
<circle cx="199.9" cy="1206.4" r="1.05"/>
<circle cx="142.4" cy="1012.4" r="1.05"/>
<circle cx="165.5" cy="985.1" r="1.05"/>
<circle cx="172.5" cy="1193.8" r="1.05"/>
<circle cx="240.9" cy="947.8" r="1.05"/>
<circle cx="381.3" cy="1147.7" r="1.05"/>
<circle cx="400.6" cy="1109.2" r="1.05"/>
<circle cx="140.8" cy="1041.3" r="1.05"/>
<circle cx="207.4" cy="1209.0" r="1.05"/>
<circle cx="233.0" cy="1214.8" r="1.05"/>
<circle cx="259.1" cy="1227.6" r="1.05"/>
<circle cx="192.6" cy="1200.7" r="1.05"/>
<circle cx="322.8" cy="963.5" r="1.05"/>
<circle cx="301.6" cy="1218.6" r="1.05"/>
<circle cx="398.8" cy="1115.6" r="1.05"/>
<circle cx="313.4" cy="1211.1" r="1.05"/>
<circle cx="134.9" cy="1112.3" r="1.05"/>
<circle cx="166.1" cy="1178.4" r="1.05"/>
<circle cx="390.9" cy="1134.1" r="1.05"/>
<circle cx="300.2" cy="1215.0" r="1.05"/>
<circle cx="255.0" cy="949.8" r="1.05"/>
<circle cx="137.9" cy="1026.6" r="1.05"/>
<circle cx="256.7" cy="1218.1" r="1.05"/>
<circle cx="150.8" cy="1014.7" r="1.05"/>
<circle cx="190.0" cy="1210.6" r="1.05"/>
<circle cx="233.3" cy="1224.4" r="1.05"/>
<circle cx="152.1" cy="1179.9" r="1.05"/>
<circle cx="352.3" cy="1185.4" r="1.05"/>
<circle cx="192.9" cy="1205.4" r="1.05"/>
<circle cx="309.9" cy="954.4" r="1.05"/>
<circle cx="125.6" cy="1119.3" r="1.05"/>
<circle cx="286.6" cy="1217.6" r="1.05"/>
<circle cx="313.6" cy="966.3" r="1.05"/>
<circle cx="117.8" cy="1095.1" r="1.05"/>
<circle cx="136.3" cy="1043.7" r="1.05"/>
<circle cx="202.1" cy="956.0" r="1.05"/>
<circle cx="405.0" cy="1099.0" r="1.05"/>
<circle cx="136.3" cy="1120.0" r="1.05"/>
<circle cx="252.2" cy="1231.3" r="1.05"/>
<circle cx="196.9" cy="973.1" r="1.05"/>
<circle cx="130.9" cy="1044.9" r="1.05"/>
<circle cx="270.1" cy="944.2" r="1.05"/>
<circle cx="222.7" cy="1223.3" r="1.05"/>
<circle cx="347.9" cy="973.0" r="1.05"/>
<circle cx="245.5" cy="956.9" r="1.05"/>
<circle cx="183.6" cy="1198.7" r="1.05"/>
<circle cx="288.4" cy="958.0" r="1.05"/>
<circle cx="171.8" cy="992.4" r="1.05"/>
<circle cx="132.3" cy="1124.1" r="1.05"/>
<circle cx="393.3" cy="1153.1" r="1.05"/>
<circle cx="258.4" cy="953.1" r="1.05"/>
<circle cx="338.6" cy="1210.3" r="1.05"/>
<circle cx="195.3" cy="962.1" r="1.05"/>
<circle cx="236.9" cy="1216.2" r="1.05"/>
<circle cx="159.1" cy="1189.0" r="1.05"/>
<circle cx="212.8" cy="964.8" r="1.05"/>
<circle cx="235.8" cy="955.3" r="1.05"/>
<circle cx="184.7" cy="969.5" r="1.05"/>
<circle cx="254.1" cy="946.5" r="1.05"/>
<circle cx="396.8" cy="1093.4" r="1.05"/>
<circle cx="316.4" cy="962.1" r="1.05"/>
<circle cx="376.6" cy="996.2" r="1.05"/>
<circle cx="140.1" cy="1138.4" r="1.05"/>
<circle cx="346.3" cy="973.2" r="1.05"/>
<circle cx="290.8" cy="946.3" r="1.05"/>
<circle cx="405.6" cy="1112.4" r="1.05"/>
<circle cx="395.3" cy="1025.9" r="1.05"/>
<circle cx="207.8" cy="1205.8" r="1.05"/>
<circle cx="158.0" cy="1008.4" r="1.05"/>
<circle cx="130.8" cy="1110.4" r="1.05"/>
<circle cx="350.2" cy="984.2" r="1.05"/>
<circle cx="397.8" cy="1065.2" r="1.05"/>
<circle cx="304.2" cy="962.8" r="1.05"/>
<circle cx="288.5" cy="952.1" r="1.05"/>
<circle cx="129.3" cy="1120.4" r="1.05"/>
<circle cx="313.1" cy="1214.0" r="1.05"/>
<circle cx="215.3" cy="1221.1" r="1.05"/>
<circle cx="240.8" cy="1229.6" r="1.05"/>
<circle cx="404.0" cy="1053.5" r="1.05"/>
<circle cx="323.5" cy="968.1" r="1.05"/>
<circle cx="279.4" cy="1227.1" r="1.05"/>
<circle cx="250.1" cy="1228.8" r="1.05"/>
<circle cx="230.9" cy="1223.5" r="1.05"/>
<circle cx="154.8" cy="1165.0" r="1.05"/>
<circle cx="330.8" cy="967.9" r="1.05"/>
<circle cx="371.0" cy="998.8" r="1.05"/>
<circle cx="214.7" cy="966.1" r="1.05"/>
<circle cx="219.1" cy="956.2" r="1.05"/>
<circle cx="221.0" cy="962.0" r="1.05"/>
<circle cx="298.6" cy="1214.0" r="1.05"/>
<circle cx="335.4" cy="1196.5" r="1.05"/>
<circle cx="356.1" cy="1179.1" r="1.05"/>
<circle cx="176.1" cy="1196.0" r="1.05"/>
<circle cx="134.6" cy="1118.9" r="1.05"/>
<circle cx="228.9" cy="953.1" r="1.05"/>
<circle cx="312.1" cy="956.7" r="1.05"/>
<circle cx="302.2" cy="1214.0" r="1.05"/>
<circle cx="334.8" cy="1196.8" r="1.05"/>
<circle cx="279.2" cy="942.8" r="1.05"/>
<circle cx="251.9" cy="1227.6" r="1.05"/>
<circle cx="386.9" cy="1040.8" r="1.05"/>
<circle cx="137.4" cy="1149.1" r="1.05"/>
<circle cx="286.3" cy="1216.0" r="1.05"/>
<circle cx="284.9" cy="1226.3" r="1.05"/>
<circle cx="130.1" cy="1073.2" r="1.05"/>
<circle cx="399.3" cy="1101.2" r="1.05"/>
<circle cx="332.5" cy="1214.9" r="1.05"/>
<circle cx="199.4" cy="1208.9" r="1.05"/>
<circle cx="278.2" cy="952.0" r="1.05"/>
<circle cx="232.3" cy="958.6" r="1.05"/>
<circle cx="234.8" cy="955.3" r="1.05"/>
<circle cx="397.5" cy="1042.2" r="1.05"/>
<circle cx="395.1" cy="1106.1" r="1.05"/>
<circle cx="136.3" cy="1132.3" r="1.05"/>
<circle cx="279.4" cy="955.0" r="1.05"/>
<circle cx="243.9" cy="1224.0" r="1.05"/>
<circle cx="396.0" cy="1094.5" r="1.05"/>
<circle cx="129.3" cy="1134.1" r="1.05"/>
<circle cx="210.9" cy="1218.6" r="1.05"/>
<circle cx="136.8" cy="1044.6" r="1.05"/>
<circle cx="207.8" cy="1215.4" r="1.05"/>
<circle cx="131.0" cy="1108.8" r="1.05"/>
<circle cx="181.8" cy="972.6" r="1.05"/>
<circle cx="405.3" cy="1097.0" r="1.05"/>
<circle cx="228.5" cy="956.5" r="1.05"/>
<circle cx="133.5" cy="1111.1" r="1.05"/>
<circle cx="307.2" cy="949.3" r="1.05"/>
<circle cx="394.4" cy="1042.7" r="1.05"/>
<circle cx="239.1" cy="1216.8" r="1.05"/>
<circle cx="282.9" cy="1222.2" r="1.05"/>
<circle cx="207.7" cy="961.5" r="1.05"/>
<circle cx="152.8" cy="1182.5" r="1.05"/>
<circle cx="187.9" cy="969.3" r="1.05"/>
<circle cx="398.7" cy="1131.4" r="1.05"/>
<circle cx="313.8" cy="1209.3" r="1.05"/>
<circle cx="230.8" cy="948.7" r="1.05"/>
<circle cx="363.0" cy="999.4" r="1.05"/>
<circle cx="383.0" cy="1020.7" r="1.05"/>
<circle cx="387.1" cy="1163.9" r="1.05"/>
<circle cx="360.0" cy="980.3" r="1.05"/>
<circle cx="225.9" cy="954.8" r="1.05"/>
<circle cx="358.4" cy="997.6" r="1.05"/>
<circle cx="385.6" cy="1146.2" r="1.05"/>
<circle cx="199.8" cy="1212.1" r="1.05"/>
<circle cx="347.3" cy="986.0" r="1.05"/>
<circle cx="254.8" cy="944.5" r="1.05"/>
<circle cx="155.1" cy="1163.4" r="1.05"/>
<circle cx="302.4" cy="1224.5" r="1.05"/>
<circle cx="165.2" cy="995.5" r="1.05"/>
<circle cx="347.5" cy="972.0" r="1.05"/>
<circle cx="403.7" cy="1067.0" r="1.05"/>
<circle cx="222.1" cy="949.0" r="1.05"/>
<circle cx="276.5" cy="1219.2" r="1.05"/>
<circle cx="140.1" cy="1130.9" r="1.05"/>
<circle cx="189.1" cy="1202.8" r="1.05"/>
<circle cx="375.2" cy="1176.1" r="1.05"/>
<circle cx="256.5" cy="946.1" r="1.05"/>
<circle cx="205.3" cy="964.8" r="1.05"/>
<circle cx="125.8" cy="1102.8" r="1.05"/>
<circle cx="146.8" cy="1152.9" r="1.05"/>
<circle cx="221.4" cy="1212.2" r="1.05"/>
<circle cx="199.6" cy="964.6" r="1.05"/>
<circle cx="226.3" cy="960.5" r="1.05"/>
<circle cx="181.2" cy="1197.2" r="1.05"/>
<circle cx="252.4" cy="1217.5" r="1.05"/>
<circle cx="182.9" cy="970.7" r="1.05"/>
<circle cx="313.6" cy="1221.1" r="1.05"/>
<circle cx="137.1" cy="1149.1" r="1.05"/>
<circle cx="261.2" cy="953.1" r="1.05"/>
<circle cx="396.1" cy="1043.2" r="1.05"/>
<circle cx="387.7" cy="1130.6" r="1.05"/>
<circle cx="259.3" cy="1224.7" r="1.05"/>
<circle cx="240.9" cy="957.4" r="1.05"/>
<circle cx="374.7" cy="1000.5" r="1.05"/>
<circle cx="235.0" cy="953.2" r="1.05"/>
<circle cx="346.2" cy="1190.3" r="1.05"/>
<circle cx="268.7" cy="951.5" r="1.05"/>
<circle cx="218.2" cy="950.9" r="1.05"/>
<circle cx="217.9" cy="962.0" r="1.05"/>
<circle cx="132.1" cy="1044.4" r="1.05"/>
<circle cx="266.8" cy="1218.9" r="1.05"/>
<circle cx="348.9" cy="1188.0" r="1.05"/>
<circle cx="145.3" cy="1030.6" r="1.05"/>
<circle cx="385.9" cy="1041.6" r="1.05"/>
<circle cx="403.7" cy="1067.8" r="1.05"/>
<circle cx="220.4" cy="963.8" r="1.05"/>
<circle cx="198.8" cy="960.8" r="1.05"/>
<circle cx="244.0" cy="956.4" r="1.05"/>
<circle cx="281.3" cy="956.4" r="1.05"/>
<circle cx="383.1" cy="1013.4" r="1.05"/>
<circle cx="238.1" cy="958.0" r="1.05"/>
<circle cx="355.4" cy="1200.1" r="1.05"/>
<circle cx="258.9" cy="954.2" r="1.05"/>
<circle cx="122.6" cy="1098.8" r="1.05"/>
<circle cx="292.4" cy="951.1" r="1.05"/>
<circle cx="177.2" cy="1204.3" r="1.05"/>
<circle cx="212.3" cy="1214.0" r="1.05"/>
<circle cx="139.5" cy="1135.8" r="1.05"/>
<circle cx="250.5" cy="1223.7" r="1.05"/>
<circle cx="178.5" cy="1188.6" r="1.05"/>
<circle cx="123.9" cy="1081.3" r="1.05"/>
<circle cx="350.0" cy="972.5" r="1.05"/>
<circle cx="149.2" cy="1171.6" r="1.05"/>
<circle cx="261.3" cy="944.4" r="1.05"/>
<circle cx="219.3" cy="952.2" r="1.05"/>
<circle cx="227.5" cy="1223.2" r="1.05"/>
<circle cx="354.7" cy="1180.6" r="1.05"/>
<circle cx="281.6" cy="1219.3" r="1.05"/>
<circle cx="293.6" cy="949.1" r="1.05"/>
<circle cx="204.5" cy="956.8" r="1.05"/>
<circle cx="356.2" cy="988.5" r="1.05"/>
<circle cx="309.4" cy="1212.0" r="1.05"/>
<circle cx="198.7" cy="964.2" r="1.05"/>
<circle cx="340.5" cy="1201.4" r="1.05"/>
<circle cx="269.2" cy="1226.4" r="1.05"/>
<circle cx="246.5" cy="942.9" r="1.05"/>
<circle cx="385.1" cy="1139.1" r="1.05"/>
<circle cx="218.2" cy="950.7" r="1.05"/>
<circle cx="182.9" cy="1191.2" r="1.05"/>
<circle cx="239.6" cy="950.3" r="1.05"/>
<circle cx="264.8" cy="941.9" r="1.05"/>
<circle cx="270.5" cy="955.3" r="1.05"/>
<circle cx="144.2" cy="1027.4" r="1.05"/>
<circle cx="149.1" cy="1022.5" r="1.05"/>
<circle cx="247.3" cy="953.6" r="1.05"/>
<circle cx="221.6" cy="1211.9" r="1.05"/>
<circle cx="371.7" cy="999.5" r="1.05"/>
<circle cx="130.9" cy="1043.6" r="1.05"/>
<circle cx="214.7" cy="1208.8" r="1.05"/>
<circle cx="314.0" cy="954.5" r="1.05"/>
<circle cx="399.5" cy="1080.1" r="1.05"/>
<circle cx="183.1" cy="1192.0" r="1.05"/>
<circle cx="382.6" cy="1154.7" r="1.05"/>
<circle cx="210.8" cy="962.7" r="1.05"/>
<circle cx="387.3" cy="1015.0" r="1.05"/>
<circle cx="157.9" cy="1165.9" r="1.05"/>
<circle cx="257.1" cy="1229.3" r="1.05"/>
<circle cx="266.2" cy="953.9" r="1.05"/>
<circle cx="257.8" cy="946.6" r="1.05"/>
<circle cx="384.2" cy="1006.0" r="1.05"/>
<circle cx="196.6" cy="966.4" r="1.05"/>
<circle cx="242.0" cy="946.1" r="1.05"/>
<circle cx="354.1" cy="981.5" r="1.05"/>
<circle cx="245.2" cy="956.7" r="1.05"/>
<circle cx="162.7" cy="1174.0" r="1.05"/>
<circle cx="143.4" cy="1151.8" r="1.05"/>
<circle cx="207.7" cy="1213.7" r="1.05"/>
<circle cx="254.3" cy="1221.9" r="1.05"/>
<circle cx="260.6" cy="1228.2" r="1.05"/>
<circle cx="248.8" cy="1218.6" r="1.05"/>
<circle cx="363.1" cy="1187.6" r="1.05"/>
<circle cx="128.1" cy="1103.5" r="1.05"/>
<circle cx="135.6" cy="1134.7" r="1.05"/>
<circle cx="242.6" cy="1218.7" r="1.05"/>
<circle cx="366.8" cy="1183.8" r="1.05"/>
<circle cx="325.4" cy="1202.7" r="1.05"/>
<circle cx="356.6" cy="1180.4" r="1.05"/>
<circle cx="399.5" cy="1091.9" r="1.05"/>
<circle cx="272.6" cy="952.1" r="1.05"/>
<circle cx="392.8" cy="1034.6" r="1.05"/>
<circle cx="391.4" cy="1123.6" r="1.05"/>
<circle cx="201.9" cy="1208.3" r="1.05"/>
<circle cx="254.7" cy="1222.5" r="1.05"/>
<circle cx="328.8" cy="1200.6" r="1.05"/>
<circle cx="252.0" cy="956.6" r="1.05"/>
<circle cx="188.8" cy="1209.3" r="1.05"/>
<circle cx="252.3" cy="953.8" r="1.05"/>
<circle cx="347.1" cy="978.7" r="1.05"/>
<circle cx="257.3" cy="953.7" r="1.05"/>
<circle cx="265.0" cy="951.2" r="1.05"/>
<circle cx="321.3" cy="1216.3" r="1.05"/>
<circle cx="268.4" cy="1218.4" r="1.05"/>
<circle cx="206.9" cy="1221.3" r="1.05"/>
<circle cx="364.7" cy="1182.0" r="1.05"/>
<circle cx="339.9" cy="1201.6" r="1.05"/>
<circle cx="118.6" cy="1102.4" r="1.05"/>
<circle cx="265.7" cy="1220.6" r="1.05"/>
<circle cx="168.9" cy="1192.2" r="1.05"/>
<circle cx="223.3" cy="1220.9" r="1.05"/>
<circle cx="238.1" cy="946.0" r="1.05"/>
<circle cx="246.1" cy="1218.1" r="1.05"/>
<circle cx="374.8" cy="1157.1" r="1.05"/>
<circle cx="356.0" cy="989.6" r="1.05"/>
<circle cx="394.1" cy="1068.9" r="1.05"/>
<circle cx="299.1" cy="1213.7" r="1.05"/>
<circle cx="351.5" cy="1202.8" r="1.05"/>
<circle cx="262.1" cy="1229.4" r="1.05"/>
<circle cx="286.7" cy="1218.9" r="1.05"/>
<circle cx="133.5" cy="1033.7" r="1.05"/>
<circle cx="278.0" cy="1220.5" r="1.05"/>
<circle cx="314.7" cy="1211.6" r="1.05"/>
<circle cx="391.6" cy="1035.7" r="1.05"/>
<circle cx="369.3" cy="1009.4" r="1.05"/>
<circle cx="370.6" cy="1008.2" r="1.05"/>
<circle cx="284.8" cy="1224.0" r="1.05"/>
<circle cx="151.1" cy="1019.4" r="1.05"/>
<circle cx="296.3" cy="952.6" r="1.05"/>
<circle cx="157.7" cy="1165.9" r="1.05"/>
<circle cx="130.8" cy="1101.5" r="1.05"/>
<circle cx="305.1" cy="959.7" r="1.05"/>
<circle cx="297.1" cy="1225.0" r="1.05"/>
<circle cx="352.3" cy="985.2" r="1.05"/>
<circle cx="395.6" cy="1052.5" r="1.05"/>
<circle cx="208.0" cy="967.9" r="1.05"/>
<circle cx="219.1" cy="957.4" r="1.05"/>
<circle cx="284.9" cy="1230.1" r="1.05"/>
<circle cx="214.0" cy="1212.4" r="1.05"/>
<circle cx="327.4" cy="970.4" r="1.05"/>
<circle cx="275.2" cy="944.3" r="1.05"/>
<circle cx="289.7" cy="1226.4" r="1.05"/>
<circle cx="123.8" cy="1106.5" r="1.05"/>
<circle cx="149.8" cy="1161.6" r="1.05"/>
<circle cx="182.4" cy="1202.8" r="1.05"/>
<circle cx="140.3" cy="1040.4" r="1.05"/>
<circle cx="210.1" cy="962.0" r="1.05"/>
<circle cx="262.0" cy="1226.0" r="1.05"/>
<circle cx="354.7" cy="976.1" r="1.05"/>
<circle cx="180.9" cy="977.9" r="1.05"/>
<circle cx="290.9" cy="959.0" r="1.05"/>
<circle cx="346.1" cy="986.2" r="1.05"/>
<circle cx="355.4" cy="1180.1" r="1.05"/>
<circle cx="370.5" cy="1010.6" r="1.05"/>
<circle cx="334.8" cy="1211.8" r="1.05"/>
<circle cx="305.4" cy="948.5" r="1.05"/>
<circle cx="156.2" cy="995.1" r="1.05"/>
<circle cx="160.2" cy="1169.9" r="1.05"/>
<circle cx="400.3" cy="1069.1" r="1.05"/>
<circle cx="217.0" cy="963.4" r="1.05"/>
<circle cx="216.5" cy="1209.8" r="1.05"/>
<circle cx="134.5" cy="1117.4" r="1.05"/>
<circle cx="283.2" cy="1217.0" r="1.05"/>
<circle cx="250.3" cy="1220.2" r="1.05"/>
<circle cx="285.3" cy="1228.6" r="1.05"/>
<circle cx="141.4" cy="1154.9" r="1.05"/>
<circle cx="343.6" cy="980.3" r="1.05"/>
<circle cx="273.1" cy="957.1" r="1.05"/>
<circle cx="284.4" cy="949.5" r="1.05"/>
<circle cx="259.5" cy="1232.9" r="1.05"/>
<circle cx="177.9" cy="988.6" r="1.05"/>
<circle cx="138.9" cy="1035.6" r="1.05"/>
<circle cx="345.7" cy="1199.7" r="1.05"/>
<circle cx="365.6" cy="1184.9" r="1.05"/>
<circle cx="393.5" cy="1146.4" r="1.05"/>
<circle cx="176.9" cy="979.6" r="1.05"/>
<circle cx="260.3" cy="947.1" r="1.05"/>
<circle cx="379.5" cy="1027.7" r="1.05"/>
<circle cx="279.1" cy="1218.2" r="1.05"/>
<circle cx="191.9" cy="1205.7" r="1.05"/>
<circle cx="258.3" cy="1233.3" r="1.05"/>
<circle cx="273.6" cy="950.7" r="1.05"/>
<circle cx="233.7" cy="951.1" r="1.05"/>
<circle cx="274.2" cy="947.7" r="1.05"/>
<circle cx="318.4" cy="960.8" r="1.05"/>
<circle cx="344.0" cy="1205.3" r="1.05"/>
<circle cx="179.9" cy="1204.9" r="1.05"/>
<circle cx="251.1" cy="943.8" r="1.05"/>
<circle cx="148.7" cy="1155.1" r="1.05"/>
<circle cx="179.7" cy="979.6" r="1.05"/>
<circle cx="166.4" cy="1195.2" r="1.05"/>
<circle cx="289.0" cy="948.0" r="1.05"/>
<circle cx="235.8" cy="949.8" r="1.05"/>
<circle cx="236.0" cy="1215.1" r="1.05"/>
<circle cx="288.5" cy="958.6" r="1.05"/>
<circle cx="357.4" cy="1189.2" r="1.05"/>
<circle cx="173.7" cy="1201.9" r="1.05"/>
<circle cx="349.4" cy="1186.1" r="1.05"/>
<circle cx="208.7" cy="960.4" r="1.05"/>
<circle cx="211.9" cy="966.1" r="1.05"/>
<circle cx="315.3" cy="965.5" r="1.05"/>
<circle cx="199.3" cy="1202.9" r="1.05"/>
<circle cx="143.2" cy="1030.2" r="1.05"/>
<circle cx="395.0" cy="1070.0" r="1.05"/>
<circle cx="196.0" cy="963.3" r="1.05"/>
<circle cx="227.8" cy="1215.8" r="1.05"/>
<circle cx="137.1" cy="1153.5" r="1.05"/>
<circle cx="396.8" cy="1136.8" r="1.05"/>
<circle cx="384.7" cy="1009.9" r="1.05"/>
<circle cx="375.4" cy="1018.0" r="1.05"/>
<circle cx="140.8" cy="1156.9" r="1.05"/>
<circle cx="305.0" cy="1215.0" r="1.05"/>
<circle cx="134.9" cy="1129.6" r="1.05"/>
<circle cx="209.7" cy="953.8" r="1.05"/>
<circle cx="118.3" cy="1070.5" r="1.05"/>
<circle cx="278.9" cy="1219.6" r="1.05"/>
<circle cx="362.9" cy="1188.5" r="1.05"/>
<circle cx="283.8" cy="957.4" r="1.05"/>
<circle cx="141.9" cy="1022.0" r="1.05"/>
<circle cx="333.5" cy="1199.9" r="1.05"/>
<circle cx="165.5" cy="1175.5" r="1.05"/>
<circle cx="246.0" cy="1232.1" r="1.05"/>
<circle cx="332.0" cy="1201.4" r="1.05"/>
<circle cx="212.0" cy="960.2" r="1.05"/>
<circle cx="268.5" cy="1219.5" r="1.05"/>
<circle cx="394.1" cy="1051.1" r="1.05"/>
<circle cx="310.2" cy="1209.8" r="1.05"/>
<circle cx="396.4" cy="1132.5" r="1.05"/>
<circle cx="392.5" cy="1066.4" r="1.05"/>
<circle cx="405.5" cy="1072.1" r="1.05"/>
<circle cx="160.6" cy="1173.7" r="1.05"/>
<circle cx="143.2" cy="1007.9" r="1.05"/>
<circle cx="271.9" cy="948.7" r="1.05"/>
<circle cx="390.8" cy="1142.6" r="1.05"/>
<circle cx="294.6" cy="953.2" r="1.05"/>
<circle cx="263.7" cy="945.1" r="1.05"/>
<circle cx="156.7" cy="1179.6" r="1.05"/>
<circle cx="381.5" cy="1165.6" r="1.05"/>
<circle cx="201.2" cy="1204.3" r="1.05"/>
<circle cx="128.8" cy="1086.4" r="1.05"/>
<circle cx="250.7" cy="1220.1" r="1.05"/>
<circle cx="226.6" cy="957.0" r="1.05"/>
<circle cx="184.7" cy="982.0" r="1.05"/>
<circle cx="274.6" cy="954.1" r="1.05"/>
<circle cx="358.4" cy="985.5" r="1.05"/>
<circle cx="310.5" cy="1221.8" r="1.05"/>
<circle cx="213.0" cy="1210.1" r="1.05"/>
<circle cx="175.8" cy="985.6" r="1.05"/>
<circle cx="145.1" cy="1157.0" r="1.05"/>
<circle cx="248.8" cy="957.1" r="1.05"/>
<circle cx="400.3" cy="1108.4" r="1.05"/>
<circle cx="154.1" cy="996.0" r="1.05"/>
<circle cx="228.1" cy="958.9" r="1.05"/>
<circle cx="215.3" cy="963.5" r="1.05"/>
<circle cx="131.5" cy="1086.8" r="1.05"/>
<circle cx="226.4" cy="1213.9" r="1.05"/>
<circle cx="407.9" cy="1106.2" r="1.05"/>
<circle cx="119.1" cy="1096.7" r="1.05"/>
<circle cx="219.9" cy="963.4" r="1.05"/>
<circle cx="261.3" cy="954.4" r="1.05"/>
<circle cx="126.0" cy="1103.2" r="1.05"/>
<circle cx="271.1" cy="1230.1" r="1.05"/>
<circle cx="329.5" cy="1208.0" r="1.05"/>
<circle cx="395.3" cy="1058.0" r="1.05"/>
<circle cx="124.7" cy="1105.7" r="1.05"/>
<circle cx="121.8" cy="1064.5" r="1.05"/>
<circle cx="359.1" cy="983.1" r="1.05"/>
<circle cx="189.4" cy="1205.6" r="1.05"/>
<circle cx="327.8" cy="1207.2" r="1.05"/>
<circle cx="336.7" cy="972.2" r="1.05"/>
<circle cx="305.6" cy="1214.7" r="1.05"/>
<circle cx="275.9" cy="956.7" r="1.05"/>
<circle cx="294.5" cy="1228.3" r="1.05"/>
<circle cx="356.7" cy="1196.8" r="1.05"/>
<circle cx="149.7" cy="995.9" r="1.05"/>
<circle cx="367.2" cy="1006.8" r="1.05"/>
<circle cx="326.4" cy="1204.1" r="1.05"/>
<circle cx="359.7" cy="986.8" r="1.05"/>
<circle cx="138.2" cy="1034.8" r="1.05"/>
<circle cx="379.5" cy="1163.9" r="1.05"/>
<circle cx="250.3" cy="1221.6" r="1.05"/>
<circle cx="128.7" cy="1059.7" r="1.05"/>
<circle cx="190.9" cy="976.3" r="1.05"/>
<circle cx="200.5" cy="971.2" r="1.05"/>
<circle cx="393.6" cy="1105.2" r="1.05"/>
<circle cx="240.6" cy="1221.2" r="1.05"/>
<circle cx="265.2" cy="955.8" r="1.05"/>
<circle cx="395.1" cy="1095.6" r="1.05"/>
<circle cx="382.6" cy="1150.0" r="1.05"/>
<circle cx="351.2" cy="985.7" r="1.05"/>
<circle cx="188.4" cy="1212.5" r="1.05"/>
<circle cx="400.0" cy="1129.1" r="1.05"/>
<circle cx="245.1" cy="953.7" r="1.05"/>
<circle cx="392.5" cy="1105.8" r="1.05"/>
<circle cx="174.1" cy="1191.8" r="1.05"/>
<circle cx="204.1" cy="960.2" r="1.05"/>
<circle cx="352.0" cy="981.2" r="1.05"/>
<circle cx="284.6" cy="1230.2" r="1.05"/>
<circle cx="289.0" cy="1215.4" r="1.05"/>
<circle cx="393.0" cy="1146.5" r="1.05"/>
<circle cx="387.2" cy="1145.0" r="1.05"/>
<circle cx="217.8" cy="1222.9" r="1.05"/>
<circle cx="333.0" cy="974.1" r="1.05"/>
<circle cx="233.7" cy="1216.4" r="1.05"/>
<circle cx="394.6" cy="1091.8" r="1.05"/>
<circle cx="166.5" cy="983.0" r="1.05"/>
<circle cx="373.1" cy="1160.4" r="1.05"/>
<circle cx="364.3" cy="1173.7" r="1.05"/>
<circle cx="400.0" cy="1136.8" r="1.05"/>
<circle cx="297.1" cy="952.5" r="1.05"/>
<circle cx="230.8" cy="1215.3" r="1.05"/>
<circle cx="195.2" cy="964.0" r="1.05"/>
<circle cx="308.7" cy="952.3" r="1.05"/>
<circle cx="119.9" cy="1069.0" r="1.05"/>
<circle cx="280.7" cy="1219.1" r="1.05"/>
<circle cx="138.1" cy="1145.9" r="1.05"/>
<circle cx="303.5" cy="1213.2" r="1.05"/>
<circle cx="230.4" cy="958.9" r="1.05"/>
<circle cx="157.3" cy="1165.7" r="1.05"/>
<circle cx="204.7" cy="1211.8" r="1.05"/>
<circle cx="309.7" cy="1215.1" r="1.05"/>
<circle cx="323.5" cy="969.5" r="1.05"/>
<circle cx="283.5" cy="950.2" r="1.05"/>
<circle cx="210.1" cy="1219.0" r="1.05"/>
<circle cx="286.9" cy="1216.4" r="1.05"/>
<circle cx="293.7" cy="1228.0" r="1.05"/>
<circle cx="350.7" cy="983.4" r="1.05"/>
<circle cx="187.5" cy="1194.9" r="1.05"/>
<circle cx="190.8" cy="975.6" r="1.05"/>
<circle cx="235.2" cy="959.7" r="1.05"/>
<circle cx="227.7" cy="1215.9" r="1.05"/>
<circle cx="343.4" cy="982.5" r="1.05"/>
<circle cx="224.4" cy="947.5" r="1.05"/>
<circle cx="172.1" cy="993.9" r="1.05"/>
<circle cx="194.1" cy="1209.8" r="1.05"/>
<circle cx="382.2" cy="1172.0" r="1.05"/>
<circle cx="201.4" cy="963.4" r="1.05"/>
<circle cx="246.4" cy="944.8" r="1.05"/>
<circle cx="157.0" cy="1011.5" r="1.05"/>
<circle cx="229.8" cy="1228.3" r="1.05"/>
<circle cx="315.1" cy="1217.1" r="1.05"/>
<circle cx="324.2" cy="1215.1" r="1.05"/>
<circle cx="361.3" cy="997.4" r="1.05"/>
<circle cx="166.9" cy="982.8" r="1.05"/>
<circle cx="183.3" cy="1198.9" r="1.05"/>
<circle cx="246.1" cy="947.2" r="1.05"/>
<circle cx="354.5" cy="973.7" r="1.05"/>
<circle cx="285.2" cy="1227.0" r="1.05"/>
<circle cx="389.2" cy="1032.3" r="1.05"/>
<circle cx="193.9" cy="964.7" r="1.05"/>
<circle cx="366.7" cy="1185.0" r="1.05"/>
<circle cx="287.1" cy="1225.3" r="1.05"/>
<circle cx="327.6" cy="1210.6" r="1.05"/>
<circle cx="214.2" cy="1218.8" r="1.05"/>
<circle cx="154.8" cy="989.9" r="1.05"/>
<circle cx="319.8" cy="957.1" r="1.05"/>
<circle cx="148.5" cy="1150.8" r="1.05"/>
<circle cx="321.6" cy="1215.0" r="1.05"/>
<circle cx="229.2" cy="1213.5" r="1.05"/>
<circle cx="295.7" cy="948.1" r="1.05"/>
<circle cx="326.6" cy="1204.6" r="1.05"/>
<circle cx="126.8" cy="1131.6" r="1.05"/>
<circle cx="279.5" cy="956.9" r="1.05"/>
<circle cx="141.8" cy="1035.1" r="1.05"/>
<circle cx="362.0" cy="983.3" r="1.05"/>
<circle cx="252.3" cy="954.5" r="1.05"/>
<circle cx="317.2" cy="951.8" r="1.05"/>
<circle cx="266.7" cy="1229.7" r="1.05"/>
<circle cx="177.1" cy="986.4" r="1.05"/>
<circle cx="204.7" cy="1205.4" r="1.05"/>
<circle cx="338.4" cy="979.8" r="1.05"/>
<circle cx="167.9" cy="1194.4" r="1.05"/>
<circle cx="170.2" cy="1187.5" r="1.05"/>
<circle cx="394.7" cy="1103.1" r="1.05"/>
<circle cx="206.4" cy="961.2" r="1.05"/>
<circle cx="313.3" cy="958.8" r="1.05"/>
<circle cx="134.0" cy="1052.1" r="1.05"/>
<circle cx="147.5" cy="1162.9" r="1.05"/>
<circle cx="268.3" cy="953.8" r="1.05"/>
<circle cx="265.3" cy="951.9" r="1.05"/>
<circle cx="330.1" cy="1199.8" r="1.05"/>
<circle cx="269.6" cy="1231.7" r="1.05"/>
<circle cx="298.6" cy="1215.8" r="1.05"/>
<circle cx="210.6" cy="1217.2" r="1.05"/>
<circle cx="173.5" cy="1182.6" r="1.05"/>
<circle cx="188.4" cy="977.2" r="1.05"/>
<circle cx="372.6" cy="1163.0" r="1.05"/>
<circle cx="208.1" cy="957.7" r="1.05"/>
<circle cx="391.8" cy="1031.1" r="1.05"/>
<circle cx="378.3" cy="1000.4" r="1.05"/>
<circle cx="147.1" cy="1165.1" r="1.05"/>
<circle cx="237.3" cy="1224.2" r="1.05"/>
<circle cx="183.5" cy="1195.4" r="1.05"/>
<circle cx="186.0" cy="1210.3" r="1.05"/>
<circle cx="252.2" cy="946.2" r="1.05"/>
<circle cx="237.6" cy="950.5" r="1.05"/>
<circle cx="312.9" cy="1211.8" r="1.05"/>
<circle cx="262.2" cy="946.5" r="1.05"/>
<circle cx="308.2" cy="1217.6" r="1.05"/>
<circle cx="235.2" cy="1222.5" r="1.05"/>
<circle cx="321.5" cy="964.6" r="1.05"/>
<circle cx="263.1" cy="1220.0" r="1.05"/>
<circle cx="278.4" cy="956.9" r="1.05"/>
<circle cx="135.0" cy="1049.3" r="1.05"/>
<circle cx="312.6" cy="1210.3" r="1.05"/>
<circle cx="377.2" cy="1154.2" r="1.05"/>
<circle cx="196.0" cy="1206.0" r="1.05"/>
<circle cx="160.2" cy="1169.4" r="1.05"/>
<circle cx="350.6" cy="989.0" r="1.05"/>
<circle cx="282.3" cy="1224.3" r="1.05"/>
<circle cx="303.9" cy="961.6" r="1.05"/>
<circle cx="158.8" cy="997.5" r="1.05"/>
<circle cx="346.4" cy="984.0" r="1.05"/>
<circle cx="255.7" cy="1220.5" r="1.05"/>
<circle cx="189.8" cy="1195.9" r="1.05"/>
<circle cx="402.5" cy="1078.8" r="1.05"/>
<circle cx="298.2" cy="1224.6" r="1.05"/>
<circle cx="232.1" cy="1217.0" r="1.05"/>
<circle cx="319.6" cy="965.3" r="1.05"/>
<circle cx="305.3" cy="1219.4" r="1.05"/>
<circle cx="121.1" cy="1055.0" r="1.05"/>
<circle cx="273.7" cy="945.7" r="1.05"/>
<circle cx="393.6" cy="1068.9" r="1.05"/>
<circle cx="291.4" cy="958.4" r="1.05"/>
<circle cx="194.2" cy="1213.1" r="1.05"/>
<circle cx="140.7" cy="1134.7" r="1.05"/>
<circle cx="156.1" cy="993.7" r="1.05"/>
<circle cx="186.0" cy="1195.1" r="1.05"/>
<circle cx="149.7" cy="996.2" r="1.05"/>
<circle cx="155.9" cy="990.7" r="1.05"/>
<circle cx="209.9" cy="1216.7" r="1.05"/>
<circle cx="248.0" cy="1227.2" r="1.05"/>
<circle cx="331.6" cy="962.0" r="1.05"/>
<circle cx="225.1" cy="1214.0" r="1.05"/>
<circle cx="252.0" cy="948.3" r="1.05"/>
<circle cx="131.5" cy="1118.6" r="1.05"/>
<circle cx="290.7" cy="1219.0" r="1.05"/>
<circle cx="254.2" cy="1229.5" r="1.05"/>
<circle cx="263.6" cy="1230.9" r="1.05"/>
<circle cx="394.1" cy="1085.8" r="1.05"/>
<circle cx="133.0" cy="1145.8" r="1.05"/>
<circle cx="342.3" cy="983.0" r="1.05"/>
<circle cx="197.0" cy="969.9" r="1.05"/>
<circle cx="273.5" cy="1220.6" r="1.05"/>
<circle cx="122.3" cy="1076.4" r="1.05"/>
</g>
</svg>
</body></html>
